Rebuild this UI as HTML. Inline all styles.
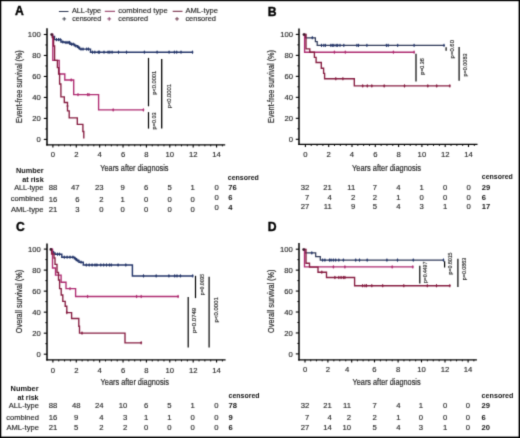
<!DOCTYPE html>
<html><head><meta charset="utf-8"><style>
html,body{margin:0;padding:0;background:#fff;width:520px;height:438px;overflow:hidden;}
body{position:relative;font-family:"Liberation Sans", sans-serif;}
svg text{font-family:"Liberation Sans", sans-serif;}
</style></head><body>
<svg width="520" height="438" viewBox="0 0 520 438" style="position:absolute;left:0;top:0;filter:none;font-family:'Liberation Sans', sans-serif">
<defs><filter id="bl" x="0" y="0" width="520" height="438" filterUnits="userSpaceOnUse" primitiveUnits="userSpaceOnUse" color-interpolation-filters="sRGB"><feConvolveMatrix order="3" kernelMatrix="0.01960 0.10080 0.01960 0.10080 0.51840 0.10080 0.01960 0.10080 0.01960" edgeMode="duplicate"/></filter></defs>
<rect x="0" y="0" width="520" height="438" fill="#fff"/>
<g filter="url(#bl)">
<rect x="0" y="0" width="520" height="438" fill="#fff"/>
<text x="15.1" y="15.4" font-size="12.2" text-anchor="start" font-weight="bold" fill="#000" stroke="#000" stroke-width="0.35">A</text>
<line x1="58.9" y1="11.5" x2="68.5" y2="11.5" stroke="#2a3450" stroke-width="1.0"/>
<text x="71.9" y="13.2" font-size="7" text-anchor="start" font-weight="normal" fill="#262626" textLength="29.3" lengthAdjust="spacingAndGlyphs" stroke="#262626" stroke-width="0.14">ALL-type</text>
<line x1="64.2" y1="17.0" x2="64.2" y2="20.799999999999997" stroke="#2f3440" stroke-width="0.85"/>
<line x1="62.300000000000004" y1="18.9" x2="66.10000000000001" y2="18.9" stroke="#2f3440" stroke-width="0.85"/>
<text x="72.2" y="20.8" font-size="7" text-anchor="start" font-weight="normal" fill="#262626" textLength="29.0" lengthAdjust="spacingAndGlyphs" stroke="#262626" stroke-width="0.14">censored</text>
<line x1="104.8" y1="11.3" x2="115" y2="11.3" stroke="#8a2a55" stroke-width="1.0"/>
<text x="118.3" y="13.2" font-size="7" text-anchor="start" font-weight="normal" fill="#262626" textLength="49.4" lengthAdjust="spacingAndGlyphs" stroke="#262626" stroke-width="0.14">combined type</text>
<line x1="109.2" y1="17.0" x2="109.2" y2="20.799999999999997" stroke="#7a2a55" stroke-width="0.85"/>
<line x1="107.3" y1="18.9" x2="111.10000000000001" y2="18.9" stroke="#7a2a55" stroke-width="0.85"/>
<text x="118.3" y="20.8" font-size="7" text-anchor="start" font-weight="normal" fill="#262626" textLength="29.7" lengthAdjust="spacingAndGlyphs" stroke="#262626" stroke-width="0.14">censored</text>
<line x1="172.7" y1="11.3" x2="182.5" y2="11.3" stroke="#6a1a35" stroke-width="1.0"/>
<text x="185.4" y="13.2" font-size="7" text-anchor="start" font-weight="normal" fill="#262626" textLength="32.5" lengthAdjust="spacingAndGlyphs" stroke="#262626" stroke-width="0.14">AML-type</text>
<line x1="177.0" y1="17.0" x2="177.0" y2="20.799999999999997" stroke="#5a2035" stroke-width="0.85"/>
<line x1="175.1" y1="18.9" x2="178.9" y2="18.9" stroke="#5a2035" stroke-width="0.85"/>
<text x="185.4" y="20.8" font-size="7" text-anchor="start" font-weight="normal" fill="#262626" textLength="30.6" lengthAdjust="spacingAndGlyphs" stroke="#262626" stroke-width="0.14">censored</text>
<line x1="47" y1="28.2" x2="47" y2="145.4" stroke="#000" stroke-width="1.5"/>
<line x1="46.25" y1="144.8" x2="225.2" y2="144.8" stroke="#000" stroke-width="1.3"/>
<line x1="43.8" y1="139.4" x2="47" y2="139.4" stroke="#000" stroke-width="1.1"/>
<text x="40.7" y="142.20000000000002" font-size="7.7" text-anchor="end" font-weight="normal" fill="#262626" stroke="#262626" stroke-width="0.14">0</text>
<line x1="45.4" y1="128.91" x2="47" y2="128.91" stroke="#000" stroke-width="1.0"/>
<line x1="43.8" y1="118.42000000000002" x2="47" y2="118.42000000000002" stroke="#000" stroke-width="1.1"/>
<text x="40.7" y="121.22000000000001" font-size="7.7" text-anchor="end" font-weight="normal" fill="#262626" stroke="#262626" stroke-width="0.14">20</text>
<line x1="45.4" y1="107.93" x2="47" y2="107.93" stroke="#000" stroke-width="1.0"/>
<line x1="43.8" y1="97.44000000000001" x2="47" y2="97.44000000000001" stroke="#000" stroke-width="1.1"/>
<text x="40.7" y="100.24000000000001" font-size="7.7" text-anchor="end" font-weight="normal" fill="#262626" stroke="#262626" stroke-width="0.14">40</text>
<line x1="45.4" y1="86.95000000000002" x2="47" y2="86.95000000000002" stroke="#000" stroke-width="1.0"/>
<line x1="43.8" y1="76.46000000000001" x2="47" y2="76.46000000000001" stroke="#000" stroke-width="1.1"/>
<text x="40.7" y="79.26" font-size="7.7" text-anchor="end" font-weight="normal" fill="#262626" stroke="#262626" stroke-width="0.14">60</text>
<line x1="45.4" y1="65.97000000000001" x2="47" y2="65.97000000000001" stroke="#000" stroke-width="1.0"/>
<line x1="43.8" y1="55.48000000000002" x2="47" y2="55.48000000000002" stroke="#000" stroke-width="1.1"/>
<text x="40.7" y="58.280000000000015" font-size="7.7" text-anchor="end" font-weight="normal" fill="#262626" stroke="#262626" stroke-width="0.14">80</text>
<line x1="45.4" y1="44.99000000000001" x2="47" y2="44.99000000000001" stroke="#000" stroke-width="1.0"/>
<line x1="43.8" y1="34.500000000000014" x2="47" y2="34.500000000000014" stroke="#000" stroke-width="1.1"/>
<text x="40.7" y="37.30000000000001" font-size="7.7" text-anchor="end" font-weight="normal" fill="#262626" stroke="#262626" stroke-width="0.14">100</text>
<line x1="52.9" y1="144.8" x2="52.9" y2="147.4" stroke="#000" stroke-width="1.1"/>
<line x1="76.28" y1="144.8" x2="76.28" y2="147.4" stroke="#000" stroke-width="1.1"/>
<line x1="99.66" y1="144.8" x2="99.66" y2="147.4" stroke="#000" stroke-width="1.1"/>
<line x1="123.03999999999999" y1="144.8" x2="123.03999999999999" y2="147.4" stroke="#000" stroke-width="1.1"/>
<line x1="146.42" y1="144.8" x2="146.42" y2="147.4" stroke="#000" stroke-width="1.1"/>
<line x1="169.79999999999998" y1="144.8" x2="169.79999999999998" y2="147.4" stroke="#000" stroke-width="1.1"/>
<line x1="193.18" y1="144.8" x2="193.18" y2="147.4" stroke="#000" stroke-width="1.1"/>
<line x1="216.56" y1="144.8" x2="216.56" y2="147.4" stroke="#000" stroke-width="1.1"/>
<line x1="58.745" y1="144.8" x2="58.745" y2="146.4" stroke="#000" stroke-width="0.9"/>
<line x1="64.59" y1="144.8" x2="64.59" y2="146.4" stroke="#000" stroke-width="0.9"/>
<line x1="70.435" y1="144.8" x2="70.435" y2="146.4" stroke="#000" stroke-width="0.9"/>
<line x1="82.125" y1="144.8" x2="82.125" y2="146.4" stroke="#000" stroke-width="0.9"/>
<line x1="87.97" y1="144.8" x2="87.97" y2="146.4" stroke="#000" stroke-width="0.9"/>
<line x1="93.815" y1="144.8" x2="93.815" y2="146.4" stroke="#000" stroke-width="0.9"/>
<line x1="105.505" y1="144.8" x2="105.505" y2="146.4" stroke="#000" stroke-width="0.9"/>
<line x1="111.35" y1="144.8" x2="111.35" y2="146.4" stroke="#000" stroke-width="0.9"/>
<line x1="117.195" y1="144.8" x2="117.195" y2="146.4" stroke="#000" stroke-width="0.9"/>
<line x1="128.885" y1="144.8" x2="128.885" y2="146.4" stroke="#000" stroke-width="0.9"/>
<line x1="134.73" y1="144.8" x2="134.73" y2="146.4" stroke="#000" stroke-width="0.9"/>
<line x1="140.575" y1="144.8" x2="140.575" y2="146.4" stroke="#000" stroke-width="0.9"/>
<line x1="152.265" y1="144.8" x2="152.265" y2="146.4" stroke="#000" stroke-width="0.9"/>
<line x1="158.10999999999999" y1="144.8" x2="158.10999999999999" y2="146.4" stroke="#000" stroke-width="0.9"/>
<line x1="163.95499999999998" y1="144.8" x2="163.95499999999998" y2="146.4" stroke="#000" stroke-width="0.9"/>
<line x1="175.64499999999998" y1="144.8" x2="175.64499999999998" y2="146.4" stroke="#000" stroke-width="0.9"/>
<line x1="181.49" y1="144.8" x2="181.49" y2="146.4" stroke="#000" stroke-width="0.9"/>
<line x1="187.335" y1="144.8" x2="187.335" y2="146.4" stroke="#000" stroke-width="0.9"/>
<line x1="199.025" y1="144.8" x2="199.025" y2="146.4" stroke="#000" stroke-width="0.9"/>
<line x1="204.87" y1="144.8" x2="204.87" y2="146.4" stroke="#000" stroke-width="0.9"/>
<line x1="210.715" y1="144.8" x2="210.715" y2="146.4" stroke="#000" stroke-width="0.9"/>
<line x1="222.405" y1="144.8" x2="222.405" y2="146.4" stroke="#000" stroke-width="0.9"/>
<text x="52.9" y="157.2" font-size="7.7" text-anchor="middle" font-weight="normal" fill="#262626" stroke="#262626" stroke-width="0.14">0</text>
<text x="76.28" y="157.2" font-size="7.7" text-anchor="middle" font-weight="normal" fill="#262626" stroke="#262626" stroke-width="0.14">2</text>
<text x="99.66" y="157.2" font-size="7.7" text-anchor="middle" font-weight="normal" fill="#262626" stroke="#262626" stroke-width="0.14">4</text>
<text x="123.04" y="157.2" font-size="7.7" text-anchor="middle" font-weight="normal" fill="#262626" stroke="#262626" stroke-width="0.14">6</text>
<text x="146.42" y="157.2" font-size="7.7" text-anchor="middle" font-weight="normal" fill="#262626" stroke="#262626" stroke-width="0.14">8</text>
<text x="169.8" y="157.2" font-size="7.7" text-anchor="middle" font-weight="normal" fill="#262626" stroke="#262626" stroke-width="0.14">10</text>
<text x="193.18" y="157.2" font-size="7.7" text-anchor="middle" font-weight="normal" fill="#262626" stroke="#262626" stroke-width="0.14">12</text>
<text x="216.56" y="157.2" font-size="7.7" text-anchor="middle" font-weight="normal" fill="#262626" stroke="#262626" stroke-width="0.14">14</text>
<text x="100.3" y="170.7" font-size="9.6" text-anchor="start" font-weight="normal" fill="#262626" textLength="68.2" lengthAdjust="spacingAndGlyphs" stroke="#262626" stroke-width="0.2">Years after diagnosis</text>
<text transform="translate(22.2,122.9) rotate(-90)" x="0" y="0" font-size="8.8" fill="#262626" textLength="72.6" lengthAdjust="spacingAndGlyphs" stroke="#262626" stroke-width="0.2">Event-free survival (%)</text>
<path d="M51.4,34.5 H52.5 V36.5 H54.5 V39.6 H61 V41.9 H64.5 V42.5 H70 V44.2 H74.5 V45.8 H77.5 V47.3 H79.5 V49.1 H90.5 V52.2 H192.5" fill="none" stroke="#24366a" stroke-width="1.45" stroke-linejoin="miter" stroke-linecap="butt"/>
<line x1="86.7" y1="47.5" x2="86.7" y2="50.7" stroke="#24366a" stroke-width="1.0"/>
<line x1="85.8" y1="49.1" x2="87.60000000000001" y2="49.1" stroke="#24366a" stroke-width="1.3"/>
<line x1="88.5" y1="47.5" x2="88.5" y2="50.7" stroke="#24366a" stroke-width="1.0"/>
<line x1="87.6" y1="49.1" x2="89.4" y2="49.1" stroke="#24366a" stroke-width="1.3"/>
<line x1="92.5" y1="50.6" x2="92.5" y2="53.800000000000004" stroke="#24366a" stroke-width="1.0"/>
<line x1="91.6" y1="52.2" x2="93.4" y2="52.2" stroke="#24366a" stroke-width="1.3"/>
<line x1="94.8" y1="50.6" x2="94.8" y2="53.800000000000004" stroke="#24366a" stroke-width="1.0"/>
<line x1="93.89999999999999" y1="52.2" x2="95.7" y2="52.2" stroke="#24366a" stroke-width="1.3"/>
<line x1="98.3" y1="50.6" x2="98.3" y2="53.800000000000004" stroke="#24366a" stroke-width="1.0"/>
<line x1="97.39999999999999" y1="52.2" x2="99.2" y2="52.2" stroke="#24366a" stroke-width="1.3"/>
<line x1="99.4" y1="50.6" x2="99.4" y2="53.800000000000004" stroke="#24366a" stroke-width="1.0"/>
<line x1="98.5" y1="52.2" x2="100.30000000000001" y2="52.2" stroke="#24366a" stroke-width="1.3"/>
<line x1="104" y1="50.6" x2="104" y2="53.800000000000004" stroke="#24366a" stroke-width="1.0"/>
<line x1="103.1" y1="52.2" x2="104.9" y2="52.2" stroke="#24366a" stroke-width="1.3"/>
<line x1="108.1" y1="50.6" x2="108.1" y2="53.800000000000004" stroke="#24366a" stroke-width="1.0"/>
<line x1="107.19999999999999" y1="52.2" x2="109.0" y2="52.2" stroke="#24366a" stroke-width="1.3"/>
<line x1="109.8" y1="50.6" x2="109.8" y2="53.800000000000004" stroke="#24366a" stroke-width="1.0"/>
<line x1="108.89999999999999" y1="52.2" x2="110.7" y2="52.2" stroke="#24366a" stroke-width="1.3"/>
<line x1="112.1" y1="50.6" x2="112.1" y2="53.800000000000004" stroke="#24366a" stroke-width="1.0"/>
<line x1="111.19999999999999" y1="52.2" x2="113.0" y2="52.2" stroke="#24366a" stroke-width="1.3"/>
<line x1="118.5" y1="50.6" x2="118.5" y2="53.800000000000004" stroke="#24366a" stroke-width="1.0"/>
<line x1="117.6" y1="52.2" x2="119.4" y2="52.2" stroke="#24366a" stroke-width="1.3"/>
<line x1="126.5" y1="50.6" x2="126.5" y2="53.800000000000004" stroke="#24366a" stroke-width="1.0"/>
<line x1="125.6" y1="52.2" x2="127.4" y2="52.2" stroke="#24366a" stroke-width="1.3"/>
<line x1="144.4" y1="50.6" x2="144.4" y2="53.800000000000004" stroke="#24366a" stroke-width="1.0"/>
<line x1="143.5" y1="52.2" x2="145.3" y2="52.2" stroke="#24366a" stroke-width="1.3"/>
<line x1="157.1" y1="50.6" x2="157.1" y2="53.800000000000004" stroke="#24366a" stroke-width="1.0"/>
<line x1="156.2" y1="52.2" x2="158.0" y2="52.2" stroke="#24366a" stroke-width="1.3"/>
<line x1="169.1" y1="50.6" x2="169.1" y2="53.800000000000004" stroke="#24366a" stroke-width="1.0"/>
<line x1="168.2" y1="52.2" x2="170.0" y2="52.2" stroke="#24366a" stroke-width="1.3"/>
<line x1="174.4" y1="50.6" x2="174.4" y2="53.800000000000004" stroke="#24366a" stroke-width="1.0"/>
<line x1="173.5" y1="52.2" x2="175.3" y2="52.2" stroke="#24366a" stroke-width="1.3"/>
<line x1="176.7" y1="50.6" x2="176.7" y2="53.800000000000004" stroke="#24366a" stroke-width="1.0"/>
<line x1="175.79999999999998" y1="52.2" x2="177.6" y2="52.2" stroke="#24366a" stroke-width="1.3"/>
<line x1="181" y1="50.6" x2="181" y2="53.800000000000004" stroke="#24366a" stroke-width="1.0"/>
<line x1="180.1" y1="52.2" x2="181.9" y2="52.2" stroke="#24366a" stroke-width="1.3"/>
<line x1="192.5" y1="50.6" x2="192.5" y2="53.800000000000004" stroke="#24366a" stroke-width="1.0"/>
<line x1="191.6" y1="52.2" x2="193.4" y2="52.2" stroke="#24366a" stroke-width="1.3"/>
<line x1="56.5" y1="38.0" x2="56.5" y2="41.2" stroke="#24366a" stroke-width="1.0"/>
<line x1="55.6" y1="39.6" x2="57.4" y2="39.6" stroke="#24366a" stroke-width="1.3"/>
<line x1="58.5" y1="38.0" x2="58.5" y2="41.2" stroke="#24366a" stroke-width="1.0"/>
<line x1="57.6" y1="39.6" x2="59.4" y2="39.6" stroke="#24366a" stroke-width="1.3"/>
<line x1="60.2" y1="38.0" x2="60.2" y2="41.2" stroke="#24366a" stroke-width="1.0"/>
<line x1="59.300000000000004" y1="39.6" x2="61.1" y2="39.6" stroke="#24366a" stroke-width="1.3"/>
<line x1="62.8" y1="40.3" x2="62.8" y2="43.5" stroke="#24366a" stroke-width="1.0"/>
<line x1="61.9" y1="41.9" x2="63.699999999999996" y2="41.9" stroke="#24366a" stroke-width="1.3"/>
<line x1="66" y1="40.9" x2="66" y2="44.1" stroke="#24366a" stroke-width="1.0"/>
<line x1="65.1" y1="42.5" x2="66.9" y2="42.5" stroke="#24366a" stroke-width="1.3"/>
<line x1="68" y1="40.9" x2="68" y2="44.1" stroke="#24366a" stroke-width="1.0"/>
<line x1="67.1" y1="42.5" x2="68.9" y2="42.5" stroke="#24366a" stroke-width="1.3"/>
<line x1="69.5" y1="40.9" x2="69.5" y2="44.1" stroke="#24366a" stroke-width="1.0"/>
<line x1="68.6" y1="42.5" x2="70.4" y2="42.5" stroke="#24366a" stroke-width="1.3"/>
<line x1="71.5" y1="42.6" x2="71.5" y2="45.800000000000004" stroke="#24366a" stroke-width="1.0"/>
<line x1="70.6" y1="44.2" x2="72.4" y2="44.2" stroke="#24366a" stroke-width="1.3"/>
<line x1="73.2" y1="42.6" x2="73.2" y2="45.800000000000004" stroke="#24366a" stroke-width="1.0"/>
<line x1="72.3" y1="44.2" x2="74.10000000000001" y2="44.2" stroke="#24366a" stroke-width="1.3"/>
<line x1="75.8" y1="44.199999999999996" x2="75.8" y2="47.4" stroke="#24366a" stroke-width="1.0"/>
<line x1="74.89999999999999" y1="45.8" x2="76.7" y2="45.8" stroke="#24366a" stroke-width="1.3"/>
<line x1="78.4" y1="45.699999999999996" x2="78.4" y2="48.9" stroke="#24366a" stroke-width="1.0"/>
<line x1="77.5" y1="47.3" x2="79.30000000000001" y2="47.3" stroke="#24366a" stroke-width="1.3"/>
<line x1="81" y1="47.5" x2="81" y2="50.7" stroke="#24366a" stroke-width="1.0"/>
<line x1="80.1" y1="49.1" x2="81.9" y2="49.1" stroke="#24366a" stroke-width="1.3"/>
<line x1="83" y1="47.5" x2="83" y2="50.7" stroke="#24366a" stroke-width="1.0"/>
<line x1="82.1" y1="49.1" x2="83.9" y2="49.1" stroke="#24366a" stroke-width="1.3"/>
<path d="M51.4,34.5 H52.8 V60.4 H59.2 V74 H64.8 V80 H73.7 V94.6 H98.6 V109.9 H143.4" fill="none" stroke="#ae2a70" stroke-width="1.35" stroke-linejoin="miter" stroke-linecap="butt"/>
<line x1="71.2" y1="78.4" x2="71.2" y2="81.6" stroke="#ae2a70" stroke-width="1.0"/>
<line x1="70.3" y1="80" x2="72.10000000000001" y2="80" stroke="#ae2a70" stroke-width="1.3"/>
<line x1="78" y1="93.0" x2="78" y2="96.19999999999999" stroke="#ae2a70" stroke-width="1.0"/>
<line x1="77.1" y1="94.6" x2="78.9" y2="94.6" stroke="#ae2a70" stroke-width="1.3"/>
<line x1="87.7" y1="93.0" x2="87.7" y2="96.19999999999999" stroke="#ae2a70" stroke-width="1.0"/>
<line x1="86.8" y1="94.6" x2="88.60000000000001" y2="94.6" stroke="#ae2a70" stroke-width="1.3"/>
<line x1="89" y1="93.0" x2="89" y2="96.19999999999999" stroke="#ae2a70" stroke-width="1.0"/>
<line x1="88.1" y1="94.6" x2="89.9" y2="94.6" stroke="#ae2a70" stroke-width="1.3"/>
<line x1="113.2" y1="108.30000000000001" x2="113.2" y2="111.5" stroke="#ae2a70" stroke-width="1.0"/>
<line x1="112.3" y1="109.9" x2="114.10000000000001" y2="109.9" stroke="#ae2a70" stroke-width="1.3"/>
<line x1="143.4" y1="108.30000000000001" x2="143.4" y2="111.5" stroke="#ae2a70" stroke-width="1.0"/>
<line x1="142.5" y1="109.9" x2="144.3" y2="109.9" stroke="#ae2a70" stroke-width="1.3"/>
<path d="M51.4,34.5 H52.3 V37.5 H53.6 V46 H54.6 V60.4 H57.4 V67.6 H58.6 V74 H59.6 V84 H60.9 V96.9 H64.3 V102.5 H67.5 V110.8 H69.2 V117.9 H77.3 V124.4 H82.9 V131.5 H83.8 V138.6" fill="none" stroke="#861c40" stroke-width="1.35" stroke-linejoin="miter" stroke-linecap="butt"/>
<line x1="67.5" y1="104.4" x2="67.5" y2="107.6" stroke="#861c40" stroke-width="1.0"/>
<line x1="66.6" y1="106" x2="68.4" y2="106" stroke="#861c40" stroke-width="1.3"/>
<line x1="148.5" y1="57.9" x2="148.5" y2="106.3" stroke="#000" stroke-width="1.2"/>
<text transform="translate(155.6,94.7) rotate(-90)" x="0" y="0" font-size="5.7" fill="#262626" textLength="23.9" lengthAdjust="spacingAndGlyphs" stroke="#262626" stroke-width="0.15">p&lt;0.0001</text>
<line x1="148.5" y1="112.1" x2="148.5" y2="128.6" stroke="#000" stroke-width="1.2"/>
<text transform="translate(155.6,129.4) rotate(-90)" x="0" y="0" font-size="5.7" fill="#262626" textLength="17.1" lengthAdjust="spacingAndGlyphs" stroke="#262626" stroke-width="0.15">p=0.03</text>
<line x1="161.7" y1="58.9" x2="161.7" y2="128.6" stroke="#000" stroke-width="1.3"/>
<text transform="translate(170.6,108.3) rotate(-90)" x="0" y="0" font-size="5.7" fill="#262626" textLength="24.3" lengthAdjust="spacingAndGlyphs" stroke="#262626" stroke-width="0.15">p&lt;0.0001</text>
<text x="43.7" y="172.5" font-size="7" text-anchor="end" font-weight="bold" fill="#111" textLength="27.7" lengthAdjust="spacingAndGlyphs">Number</text>
<text x="43.7" y="181.7" font-size="7" text-anchor="end" font-weight="bold" fill="#111" textLength="21.4" lengthAdjust="spacingAndGlyphs">at risk</text>
<text x="43.4" y="189.6" font-size="7" text-anchor="end" font-weight="normal" fill="#262626" textLength="29.2" lengthAdjust="spacingAndGlyphs" stroke="#262626" stroke-width="0.14">ALL-type</text>
<text x="43.7" y="201.4" font-size="7" text-anchor="end" font-weight="normal" fill="#262626" textLength="32.9" lengthAdjust="spacingAndGlyphs" stroke="#262626" stroke-width="0.14">combined</text>
<text x="43.4" y="211.5" font-size="7" text-anchor="end" font-weight="normal" fill="#262626" textLength="32.5" lengthAdjust="spacingAndGlyphs" stroke="#262626" stroke-width="0.14">AML-type</text>
<text x="57.2" y="190.0" font-size="7.7" text-anchor="end" font-weight="normal" fill="#262626" stroke="#262626" stroke-width="0.14">88</text>
<text x="79.6" y="190.0" font-size="7.7" text-anchor="end" font-weight="normal" fill="#262626" stroke="#262626" stroke-width="0.14">47</text>
<text x="103.6" y="190.0" font-size="7.7" text-anchor="end" font-weight="normal" fill="#262626" stroke="#262626" stroke-width="0.14">23</text>
<text x="124.8" y="190.0" font-size="7.7" text-anchor="end" font-weight="normal" fill="#262626" stroke="#262626" stroke-width="0.14">9</text>
<text x="148.3" y="190.0" font-size="7.7" text-anchor="end" font-weight="normal" fill="#262626" stroke="#262626" stroke-width="0.14">6</text>
<text x="171.9" y="190.0" font-size="7.7" text-anchor="end" font-weight="normal" fill="#262626" stroke="#262626" stroke-width="0.14">5</text>
<text x="194.8" y="190.0" font-size="7.7" text-anchor="end" font-weight="normal" fill="#262626" stroke="#262626" stroke-width="0.14">1</text>
<text x="57.2" y="201.6" font-size="7.7" text-anchor="end" font-weight="normal" fill="#262626" stroke="#262626" stroke-width="0.14">16</text>
<text x="79.6" y="201.6" font-size="7.7" text-anchor="end" font-weight="normal" fill="#262626" stroke="#262626" stroke-width="0.14">6</text>
<text x="103.6" y="201.6" font-size="7.7" text-anchor="end" font-weight="normal" fill="#262626" stroke="#262626" stroke-width="0.14">2</text>
<text x="124.8" y="201.6" font-size="7.7" text-anchor="end" font-weight="normal" fill="#262626" stroke="#262626" stroke-width="0.14">1</text>
<text x="148.3" y="201.6" font-size="7.7" text-anchor="end" font-weight="normal" fill="#262626" stroke="#262626" stroke-width="0.14">0</text>
<text x="171.9" y="201.6" font-size="7.7" text-anchor="end" font-weight="normal" fill="#262626" stroke="#262626" stroke-width="0.14">0</text>
<text x="194.8" y="201.6" font-size="7.7" text-anchor="end" font-weight="normal" fill="#262626" stroke="#262626" stroke-width="0.14">0</text>
<text x="57.2" y="211.7" font-size="7.7" text-anchor="end" font-weight="normal" fill="#262626" stroke="#262626" stroke-width="0.14">21</text>
<text x="79.6" y="211.7" font-size="7.7" text-anchor="end" font-weight="normal" fill="#262626" stroke="#262626" stroke-width="0.14">3</text>
<text x="103.6" y="211.7" font-size="7.7" text-anchor="end" font-weight="normal" fill="#262626" stroke="#262626" stroke-width="0.14">0</text>
<text x="124.8" y="211.7" font-size="7.7" text-anchor="end" font-weight="normal" fill="#262626" stroke="#262626" stroke-width="0.14">0</text>
<text x="148.3" y="211.7" font-size="7.7" text-anchor="end" font-weight="normal" fill="#262626" stroke="#262626" stroke-width="0.14">0</text>
<text x="171.9" y="211.7" font-size="7.7" text-anchor="end" font-weight="normal" fill="#262626" stroke="#262626" stroke-width="0.14">0</text>
<text x="194.8" y="211.7" font-size="7.7" text-anchor="end" font-weight="normal" fill="#262626" stroke="#262626" stroke-width="0.14">0</text>
<text x="218.7" y="190.0" font-size="7.7" text-anchor="end" font-weight="normal" fill="#262626" stroke="#262626" stroke-width="0.14">0</text>
<text x="218.7" y="200.3" font-size="7.7" text-anchor="end" font-weight="normal" fill="#262626" stroke="#262626" stroke-width="0.14">0</text>
<text x="218.7" y="209.8" font-size="7.7" text-anchor="end" font-weight="normal" fill="#262626" stroke="#262626" stroke-width="0.14">0</text>
<text x="227.8" y="179.6" font-size="7.5" text-anchor="start" font-weight="bold" fill="#111" textLength="31.1" lengthAdjust="spacingAndGlyphs">censored</text>
<text x="228.2" y="190.0" font-size="7.6" text-anchor="start" font-weight="bold" fill="#111">76</text>
<text x="228.2" y="200.3" font-size="7.6" text-anchor="start" font-weight="bold" fill="#111">6</text>
<text x="228.2" y="209.8" font-size="7.6" text-anchor="start" font-weight="bold" fill="#111">4</text>
<text x="267.8" y="16.2" font-size="12.2" text-anchor="start" font-weight="bold" fill="#000" stroke="#000" stroke-width="0.35">B</text>
<line x1="299" y1="28.5" x2="299" y2="145.0" stroke="#000" stroke-width="1.5"/>
<line x1="298.25" y1="144.4" x2="477.5" y2="144.4" stroke="#000" stroke-width="1.3"/>
<line x1="295.8" y1="139.3" x2="299" y2="139.3" stroke="#000" stroke-width="1.1"/>
<text x="293" y="142.10000000000002" font-size="7.7" text-anchor="end" font-weight="normal" fill="#262626" stroke="#262626" stroke-width="0.14">0</text>
<line x1="297.4" y1="128.81" x2="299" y2="128.81" stroke="#000" stroke-width="1.0"/>
<line x1="295.8" y1="118.32000000000002" x2="299" y2="118.32000000000002" stroke="#000" stroke-width="1.1"/>
<text x="293" y="121.12000000000002" font-size="7.7" text-anchor="end" font-weight="normal" fill="#262626" stroke="#262626" stroke-width="0.14">20</text>
<line x1="297.4" y1="107.83000000000001" x2="299" y2="107.83000000000001" stroke="#000" stroke-width="1.0"/>
<line x1="295.8" y1="97.34000000000002" x2="299" y2="97.34000000000002" stroke="#000" stroke-width="1.1"/>
<text x="293" y="100.14000000000001" font-size="7.7" text-anchor="end" font-weight="normal" fill="#262626" stroke="#262626" stroke-width="0.14">40</text>
<line x1="297.4" y1="86.85000000000002" x2="299" y2="86.85000000000002" stroke="#000" stroke-width="1.0"/>
<line x1="295.8" y1="76.36000000000001" x2="299" y2="76.36000000000001" stroke="#000" stroke-width="1.1"/>
<text x="293" y="79.16000000000001" font-size="7.7" text-anchor="end" font-weight="normal" fill="#262626" stroke="#262626" stroke-width="0.14">60</text>
<line x1="297.4" y1="65.87000000000002" x2="299" y2="65.87000000000002" stroke="#000" stroke-width="1.0"/>
<line x1="295.8" y1="55.380000000000024" x2="299" y2="55.380000000000024" stroke="#000" stroke-width="1.1"/>
<text x="293" y="58.18000000000002" font-size="7.7" text-anchor="end" font-weight="normal" fill="#262626" stroke="#262626" stroke-width="0.14">80</text>
<line x1="297.4" y1="44.890000000000015" x2="299" y2="44.890000000000015" stroke="#000" stroke-width="1.0"/>
<line x1="295.8" y1="34.40000000000002" x2="299" y2="34.40000000000002" stroke="#000" stroke-width="1.1"/>
<text x="293" y="37.20000000000002" font-size="7.7" text-anchor="end" font-weight="normal" fill="#262626" stroke="#262626" stroke-width="0.14">100</text>
<line x1="305.4" y1="144.4" x2="305.4" y2="147.0" stroke="#000" stroke-width="1.1"/>
<line x1="328.7" y1="144.4" x2="328.7" y2="147.0" stroke="#000" stroke-width="1.1"/>
<line x1="352.0" y1="144.4" x2="352.0" y2="147.0" stroke="#000" stroke-width="1.1"/>
<line x1="375.29999999999995" y1="144.4" x2="375.29999999999995" y2="147.0" stroke="#000" stroke-width="1.1"/>
<line x1="398.59999999999997" y1="144.4" x2="398.59999999999997" y2="147.0" stroke="#000" stroke-width="1.1"/>
<line x1="421.9" y1="144.4" x2="421.9" y2="147.0" stroke="#000" stroke-width="1.1"/>
<line x1="445.2" y1="144.4" x2="445.2" y2="147.0" stroke="#000" stroke-width="1.1"/>
<line x1="468.5" y1="144.4" x2="468.5" y2="147.0" stroke="#000" stroke-width="1.1"/>
<line x1="311.22499999999997" y1="144.4" x2="311.22499999999997" y2="146.0" stroke="#000" stroke-width="0.9"/>
<line x1="317.04999999999995" y1="144.4" x2="317.04999999999995" y2="146.0" stroke="#000" stroke-width="0.9"/>
<line x1="322.875" y1="144.4" x2="322.875" y2="146.0" stroke="#000" stroke-width="0.9"/>
<line x1="334.525" y1="144.4" x2="334.525" y2="146.0" stroke="#000" stroke-width="0.9"/>
<line x1="340.35" y1="144.4" x2="340.35" y2="146.0" stroke="#000" stroke-width="0.9"/>
<line x1="346.175" y1="144.4" x2="346.175" y2="146.0" stroke="#000" stroke-width="0.9"/>
<line x1="357.825" y1="144.4" x2="357.825" y2="146.0" stroke="#000" stroke-width="0.9"/>
<line x1="363.65" y1="144.4" x2="363.65" y2="146.0" stroke="#000" stroke-width="0.9"/>
<line x1="369.47499999999997" y1="144.4" x2="369.47499999999997" y2="146.0" stroke="#000" stroke-width="0.9"/>
<line x1="381.12499999999994" y1="144.4" x2="381.12499999999994" y2="146.0" stroke="#000" stroke-width="0.9"/>
<line x1="386.94999999999993" y1="144.4" x2="386.94999999999993" y2="146.0" stroke="#000" stroke-width="0.9"/>
<line x1="392.775" y1="144.4" x2="392.775" y2="146.0" stroke="#000" stroke-width="0.9"/>
<line x1="404.42499999999995" y1="144.4" x2="404.42499999999995" y2="146.0" stroke="#000" stroke-width="0.9"/>
<line x1="410.25" y1="144.4" x2="410.25" y2="146.0" stroke="#000" stroke-width="0.9"/>
<line x1="416.075" y1="144.4" x2="416.075" y2="146.0" stroke="#000" stroke-width="0.9"/>
<line x1="427.72499999999997" y1="144.4" x2="427.72499999999997" y2="146.0" stroke="#000" stroke-width="0.9"/>
<line x1="433.54999999999995" y1="144.4" x2="433.54999999999995" y2="146.0" stroke="#000" stroke-width="0.9"/>
<line x1="439.375" y1="144.4" x2="439.375" y2="146.0" stroke="#000" stroke-width="0.9"/>
<line x1="451.025" y1="144.4" x2="451.025" y2="146.0" stroke="#000" stroke-width="0.9"/>
<line x1="456.85" y1="144.4" x2="456.85" y2="146.0" stroke="#000" stroke-width="0.9"/>
<line x1="462.675" y1="144.4" x2="462.675" y2="146.0" stroke="#000" stroke-width="0.9"/>
<line x1="474.325" y1="144.4" x2="474.325" y2="146.0" stroke="#000" stroke-width="0.9"/>
<text x="305.4" y="157.2" font-size="7.7" text-anchor="middle" font-weight="normal" fill="#262626" stroke="#262626" stroke-width="0.14">0</text>
<text x="328.7" y="157.2" font-size="7.7" text-anchor="middle" font-weight="normal" fill="#262626" stroke="#262626" stroke-width="0.14">2</text>
<text x="352.0" y="157.2" font-size="7.7" text-anchor="middle" font-weight="normal" fill="#262626" stroke="#262626" stroke-width="0.14">4</text>
<text x="375.3" y="157.2" font-size="7.7" text-anchor="middle" font-weight="normal" fill="#262626" stroke="#262626" stroke-width="0.14">6</text>
<text x="398.6" y="157.2" font-size="7.7" text-anchor="middle" font-weight="normal" fill="#262626" stroke="#262626" stroke-width="0.14">8</text>
<text x="421.9" y="157.2" font-size="7.7" text-anchor="middle" font-weight="normal" fill="#262626" stroke="#262626" stroke-width="0.14">10</text>
<text x="445.2" y="157.2" font-size="7.7" text-anchor="middle" font-weight="normal" fill="#262626" stroke="#262626" stroke-width="0.14">12</text>
<text x="468.5" y="157.2" font-size="7.7" text-anchor="middle" font-weight="normal" fill="#262626" stroke="#262626" stroke-width="0.14">14</text>
<text x="352.1" y="170.7" font-size="9.6" text-anchor="start" font-weight="normal" fill="#262626" textLength="68.9" lengthAdjust="spacingAndGlyphs" stroke="#262626" stroke-width="0.2">Years after diagnosis</text>
<text transform="translate(274.3,122.9) rotate(-90)" x="0" y="0" font-size="8.8" fill="#262626" textLength="72.8" lengthAdjust="spacingAndGlyphs" stroke="#262626" stroke-width="0.2">Event-free survival (%)</text>
<path d="M303.8,34.4 H305.6 V37.8 H315.4 V41.7 H317.2 V45.4 H444" fill="none" stroke="#2e3858" stroke-width="1.25" stroke-linejoin="miter" stroke-linecap="butt"/>
<line x1="312.3" y1="36.1" x2="312.3" y2="39.300000000000004" stroke="#24366a" stroke-width="1.0"/>
<line x1="311.40000000000003" y1="37.7" x2="313.2" y2="37.7" stroke="#24366a" stroke-width="1.3"/>
<line x1="321.5" y1="43.8" x2="321.5" y2="47.0" stroke="#24366a" stroke-width="1.0"/>
<line x1="320.6" y1="45.4" x2="322.4" y2="45.4" stroke="#24366a" stroke-width="1.3"/>
<line x1="323.8" y1="43.8" x2="323.8" y2="47.0" stroke="#24366a" stroke-width="1.0"/>
<line x1="322.90000000000003" y1="45.4" x2="324.7" y2="45.4" stroke="#24366a" stroke-width="1.3"/>
<line x1="325.4" y1="43.8" x2="325.4" y2="47.0" stroke="#24366a" stroke-width="1.0"/>
<line x1="324.5" y1="45.4" x2="326.29999999999995" y2="45.4" stroke="#24366a" stroke-width="1.3"/>
<line x1="330.8" y1="43.8" x2="330.8" y2="47.0" stroke="#24366a" stroke-width="1.0"/>
<line x1="329.90000000000003" y1="45.4" x2="331.7" y2="45.4" stroke="#24366a" stroke-width="1.3"/>
<line x1="332.3" y1="43.8" x2="332.3" y2="47.0" stroke="#24366a" stroke-width="1.0"/>
<line x1="331.40000000000003" y1="45.4" x2="333.2" y2="45.4" stroke="#24366a" stroke-width="1.3"/>
<line x1="333.8" y1="43.8" x2="333.8" y2="47.0" stroke="#24366a" stroke-width="1.0"/>
<line x1="332.90000000000003" y1="45.4" x2="334.7" y2="45.4" stroke="#24366a" stroke-width="1.3"/>
<line x1="336.2" y1="43.8" x2="336.2" y2="47.0" stroke="#24366a" stroke-width="1.0"/>
<line x1="335.3" y1="45.4" x2="337.09999999999997" y2="45.4" stroke="#24366a" stroke-width="1.3"/>
<line x1="337.7" y1="43.8" x2="337.7" y2="47.0" stroke="#24366a" stroke-width="1.0"/>
<line x1="336.8" y1="45.4" x2="338.59999999999997" y2="45.4" stroke="#24366a" stroke-width="1.3"/>
<line x1="340" y1="43.8" x2="340" y2="47.0" stroke="#24366a" stroke-width="1.0"/>
<line x1="339.1" y1="45.4" x2="340.9" y2="45.4" stroke="#24366a" stroke-width="1.3"/>
<line x1="343.8" y1="43.8" x2="343.8" y2="47.0" stroke="#24366a" stroke-width="1.0"/>
<line x1="342.90000000000003" y1="45.4" x2="344.7" y2="45.4" stroke="#24366a" stroke-width="1.3"/>
<line x1="356.9" y1="43.8" x2="356.9" y2="47.0" stroke="#24366a" stroke-width="1.0"/>
<line x1="356.0" y1="45.4" x2="357.79999999999995" y2="45.4" stroke="#24366a" stroke-width="1.3"/>
<line x1="358.5" y1="43.8" x2="358.5" y2="47.0" stroke="#24366a" stroke-width="1.0"/>
<line x1="357.6" y1="45.4" x2="359.4" y2="45.4" stroke="#24366a" stroke-width="1.3"/>
<line x1="366.9" y1="43.8" x2="366.9" y2="47.0" stroke="#24366a" stroke-width="1.0"/>
<line x1="366.0" y1="45.4" x2="367.79999999999995" y2="45.4" stroke="#24366a" stroke-width="1.3"/>
<line x1="386.4" y1="43.8" x2="386.4" y2="47.0" stroke="#24366a" stroke-width="1.0"/>
<line x1="385.5" y1="45.4" x2="387.29999999999995" y2="45.4" stroke="#24366a" stroke-width="1.3"/>
<line x1="388.2" y1="43.8" x2="388.2" y2="47.0" stroke="#24366a" stroke-width="1.0"/>
<line x1="387.3" y1="45.4" x2="389.09999999999997" y2="45.4" stroke="#24366a" stroke-width="1.3"/>
<line x1="397.7" y1="43.8" x2="397.7" y2="47.0" stroke="#24366a" stroke-width="1.0"/>
<line x1="396.8" y1="45.4" x2="398.59999999999997" y2="45.4" stroke="#24366a" stroke-width="1.3"/>
<line x1="414.1" y1="43.8" x2="414.1" y2="47.0" stroke="#24366a" stroke-width="1.0"/>
<line x1="413.20000000000005" y1="45.4" x2="415.0" y2="45.4" stroke="#24366a" stroke-width="1.3"/>
<line x1="444" y1="43.8" x2="444" y2="47.0" stroke="#24366a" stroke-width="1.0"/>
<line x1="443.1" y1="45.4" x2="444.9" y2="45.4" stroke="#24366a" stroke-width="1.3"/>
<path d="M303.8,34.4 H304.6 V52.2 H414.1" fill="none" stroke="#ae2a70" stroke-width="1.35" stroke-linejoin="miter" stroke-linecap="butt"/>
<line x1="334.4" y1="50.6" x2="334.4" y2="53.800000000000004" stroke="#ae2a70" stroke-width="1.0"/>
<line x1="333.5" y1="52.2" x2="335.29999999999995" y2="52.2" stroke="#ae2a70" stroke-width="1.3"/>
<line x1="345.3" y1="50.6" x2="345.3" y2="53.800000000000004" stroke="#ae2a70" stroke-width="1.0"/>
<line x1="344.40000000000003" y1="52.2" x2="346.2" y2="52.2" stroke="#ae2a70" stroke-width="1.3"/>
<line x1="393.4" y1="50.6" x2="393.4" y2="53.800000000000004" stroke="#ae2a70" stroke-width="1.0"/>
<line x1="392.5" y1="52.2" x2="394.29999999999995" y2="52.2" stroke="#ae2a70" stroke-width="1.3"/>
<line x1="414.1" y1="50.6" x2="414.1" y2="53.800000000000004" stroke="#ae2a70" stroke-width="1.0"/>
<line x1="413.20000000000005" y1="52.2" x2="415.0" y2="52.2" stroke="#ae2a70" stroke-width="1.3"/>
<path d="M303.8,34.4 H306.0 V48.8 H309.8 V52.2 H314.4 V57.3 H316.1 V62.5 H321.3 V68.2 H323.6 V73.4 H324.6 V78.7 H354.3 V85.9 H449.8" fill="none" stroke="#861c40" stroke-width="1.35" stroke-linejoin="miter" stroke-linecap="butt"/>
<line x1="335.8" y1="77.10000000000001" x2="335.8" y2="80.3" stroke="#861c40" stroke-width="1.0"/>
<line x1="334.90000000000003" y1="78.7" x2="336.7" y2="78.7" stroke="#861c40" stroke-width="1.3"/>
<line x1="342.9" y1="77.10000000000001" x2="342.9" y2="80.3" stroke="#861c40" stroke-width="1.0"/>
<line x1="342.0" y1="78.7" x2="343.79999999999995" y2="78.7" stroke="#861c40" stroke-width="1.3"/>
<line x1="362.7" y1="84.30000000000001" x2="362.7" y2="87.5" stroke="#861c40" stroke-width="1.0"/>
<line x1="361.8" y1="85.9" x2="363.59999999999997" y2="85.9" stroke="#861c40" stroke-width="1.3"/>
<line x1="367.3" y1="84.30000000000001" x2="367.3" y2="87.5" stroke="#861c40" stroke-width="1.0"/>
<line x1="366.40000000000003" y1="85.9" x2="368.2" y2="85.9" stroke="#861c40" stroke-width="1.3"/>
<line x1="371.8" y1="84.30000000000001" x2="371.8" y2="87.5" stroke="#861c40" stroke-width="1.0"/>
<line x1="370.90000000000003" y1="85.9" x2="372.7" y2="85.9" stroke="#861c40" stroke-width="1.3"/>
<line x1="384.2" y1="84.30000000000001" x2="384.2" y2="87.5" stroke="#861c40" stroke-width="1.0"/>
<line x1="383.3" y1="85.9" x2="385.09999999999997" y2="85.9" stroke="#861c40" stroke-width="1.3"/>
<line x1="404.5" y1="84.30000000000001" x2="404.5" y2="87.5" stroke="#861c40" stroke-width="1.0"/>
<line x1="403.6" y1="85.9" x2="405.4" y2="85.9" stroke="#861c40" stroke-width="1.3"/>
<line x1="427.8" y1="84.30000000000001" x2="427.8" y2="87.5" stroke="#861c40" stroke-width="1.0"/>
<line x1="426.90000000000003" y1="85.9" x2="428.7" y2="85.9" stroke="#861c40" stroke-width="1.3"/>
<line x1="436.7" y1="84.30000000000001" x2="436.7" y2="87.5" stroke="#861c40" stroke-width="1.0"/>
<line x1="435.8" y1="85.9" x2="437.59999999999997" y2="85.9" stroke="#861c40" stroke-width="1.3"/>
<line x1="449.8" y1="84.30000000000001" x2="449.8" y2="87.5" stroke="#861c40" stroke-width="1.0"/>
<line x1="448.90000000000003" y1="85.9" x2="450.7" y2="85.9" stroke="#861c40" stroke-width="1.3"/>
<line x1="416" y1="53.7" x2="416" y2="81.6" stroke="#000" stroke-width="1.2"/>
<text transform="translate(423.6,74.7) rotate(-90)" x="0" y="0" font-size="5.7" fill="#262626" textLength="16.4" lengthAdjust="spacingAndGlyphs" stroke="#262626" stroke-width="0.15">p=0.36</text>
<line x1="446.1" y1="47.2" x2="446.1" y2="50.7" stroke="#000" stroke-width="1.2"/>
<text transform="translate(454.2,58.4) rotate(-90)" x="0" y="0" font-size="5.7" fill="#262626" textLength="18.4" lengthAdjust="spacingAndGlyphs" stroke="#262626" stroke-width="0.15">p=0.60</text>
<line x1="459.1" y1="47.0" x2="459.1" y2="80.8" stroke="#000" stroke-width="1.2"/>
<text transform="translate(467.0,76.5) rotate(-90)" x="0" y="0" font-size="5.7" fill="#262626" textLength="23.0" lengthAdjust="spacingAndGlyphs" stroke="#262626" stroke-width="0.15">p=0.0083</text>
<text x="309.4" y="189.8" font-size="7.7" text-anchor="end" font-weight="normal" fill="#262626" stroke="#262626" stroke-width="0.14">32</text>
<text x="331.7" y="189.8" font-size="7.7" text-anchor="end" font-weight="normal" fill="#262626" stroke="#262626" stroke-width="0.14">21</text>
<text x="355.2" y="189.8" font-size="7.7" text-anchor="end" font-weight="normal" fill="#262626" stroke="#262626" stroke-width="0.14">11</text>
<text x="377.0" y="189.8" font-size="7.7" text-anchor="end" font-weight="normal" fill="#262626" stroke="#262626" stroke-width="0.14">7</text>
<text x="400.5" y="189.8" font-size="7.7" text-anchor="end" font-weight="normal" fill="#262626" stroke="#262626" stroke-width="0.14">4</text>
<text x="423.8" y="189.8" font-size="7.7" text-anchor="end" font-weight="normal" fill="#262626" stroke="#262626" stroke-width="0.14">1</text>
<text x="447.2" y="189.8" font-size="7.7" text-anchor="end" font-weight="normal" fill="#262626" stroke="#262626" stroke-width="0.14">0</text>
<text x="470.8" y="189.8" font-size="7.7" text-anchor="end" font-weight="normal" fill="#262626" stroke="#262626" stroke-width="0.14">0</text>
<text x="309.4" y="199.6" font-size="7.7" text-anchor="end" font-weight="normal" fill="#262626" stroke="#262626" stroke-width="0.14">7</text>
<text x="331.7" y="199.6" font-size="7.7" text-anchor="end" font-weight="normal" fill="#262626" stroke="#262626" stroke-width="0.14">4</text>
<text x="355.2" y="199.6" font-size="7.7" text-anchor="end" font-weight="normal" fill="#262626" stroke="#262626" stroke-width="0.14">2</text>
<text x="377.0" y="199.6" font-size="7.7" text-anchor="end" font-weight="normal" fill="#262626" stroke="#262626" stroke-width="0.14">2</text>
<text x="400.5" y="199.6" font-size="7.7" text-anchor="end" font-weight="normal" fill="#262626" stroke="#262626" stroke-width="0.14">1</text>
<text x="423.8" y="199.6" font-size="7.7" text-anchor="end" font-weight="normal" fill="#262626" stroke="#262626" stroke-width="0.14">0</text>
<text x="447.2" y="199.6" font-size="7.7" text-anchor="end" font-weight="normal" fill="#262626" stroke="#262626" stroke-width="0.14">0</text>
<text x="470.8" y="199.6" font-size="7.7" text-anchor="end" font-weight="normal" fill="#262626" stroke="#262626" stroke-width="0.14">0</text>
<text x="309.4" y="208.9" font-size="7.7" text-anchor="end" font-weight="normal" fill="#262626" stroke="#262626" stroke-width="0.14">27</text>
<text x="331.7" y="208.9" font-size="7.7" text-anchor="end" font-weight="normal" fill="#262626" stroke="#262626" stroke-width="0.14">11</text>
<text x="355.2" y="208.9" font-size="7.7" text-anchor="end" font-weight="normal" fill="#262626" stroke="#262626" stroke-width="0.14">9</text>
<text x="377.0" y="208.9" font-size="7.7" text-anchor="end" font-weight="normal" fill="#262626" stroke="#262626" stroke-width="0.14">5</text>
<text x="400.5" y="208.9" font-size="7.7" text-anchor="end" font-weight="normal" fill="#262626" stroke="#262626" stroke-width="0.14">4</text>
<text x="423.8" y="208.9" font-size="7.7" text-anchor="end" font-weight="normal" fill="#262626" stroke="#262626" stroke-width="0.14">3</text>
<text x="447.2" y="208.9" font-size="7.7" text-anchor="end" font-weight="normal" fill="#262626" stroke="#262626" stroke-width="0.14">1</text>
<text x="470.8" y="208.9" font-size="7.7" text-anchor="end" font-weight="normal" fill="#262626" stroke="#262626" stroke-width="0.14">0</text>
<text x="481.8" y="178.5" font-size="7.5" text-anchor="start" font-weight="bold" fill="#111" textLength="31.0" lengthAdjust="spacingAndGlyphs">censored</text>
<text x="481.8" y="189.8" font-size="7.6" text-anchor="start" font-weight="bold" fill="#111">29</text>
<text x="481.8" y="199.6" font-size="7.6" text-anchor="start" font-weight="bold" fill="#111">6</text>
<text x="481.8" y="208.9" font-size="7.6" text-anchor="start" font-weight="bold" fill="#111">17</text>
<text x="16.0" y="231.1" font-size="12.2" text-anchor="start" font-weight="bold" fill="#000" stroke="#000" stroke-width="0.35">C</text>
<line x1="47" y1="243.6" x2="47" y2="360.5" stroke="#000" stroke-width="1.5"/>
<line x1="46.25" y1="359.9" x2="225.6" y2="359.9" stroke="#000" stroke-width="1.3"/>
<line x1="43.8" y1="354.2" x2="47" y2="354.2" stroke="#000" stroke-width="1.1"/>
<text x="40.8" y="357.0" font-size="7.7" text-anchor="end" font-weight="normal" fill="#262626" stroke="#262626" stroke-width="0.14">0</text>
<line x1="45.4" y1="343.69" x2="47" y2="343.69" stroke="#000" stroke-width="1.0"/>
<line x1="43.8" y1="333.18" x2="47" y2="333.18" stroke="#000" stroke-width="1.1"/>
<text x="40.8" y="335.98" font-size="7.7" text-anchor="end" font-weight="normal" fill="#262626" stroke="#262626" stroke-width="0.14">20</text>
<line x1="45.4" y1="322.67" x2="47" y2="322.67" stroke="#000" stroke-width="1.0"/>
<line x1="43.8" y1="312.15999999999997" x2="47" y2="312.15999999999997" stroke="#000" stroke-width="1.1"/>
<text x="40.8" y="314.96" font-size="7.7" text-anchor="end" font-weight="normal" fill="#262626" stroke="#262626" stroke-width="0.14">40</text>
<line x1="45.4" y1="301.65" x2="47" y2="301.65" stroke="#000" stroke-width="1.0"/>
<line x1="43.8" y1="291.14" x2="47" y2="291.14" stroke="#000" stroke-width="1.1"/>
<text x="40.8" y="293.94" font-size="7.7" text-anchor="end" font-weight="normal" fill="#262626" stroke="#262626" stroke-width="0.14">60</text>
<line x1="45.4" y1="280.63" x2="47" y2="280.63" stroke="#000" stroke-width="1.0"/>
<line x1="43.8" y1="270.12" x2="47" y2="270.12" stroke="#000" stroke-width="1.1"/>
<text x="40.8" y="272.92" font-size="7.7" text-anchor="end" font-weight="normal" fill="#262626" stroke="#262626" stroke-width="0.14">80</text>
<line x1="45.4" y1="259.61" x2="47" y2="259.61" stroke="#000" stroke-width="1.0"/>
<line x1="43.8" y1="249.1" x2="47" y2="249.1" stroke="#000" stroke-width="1.1"/>
<text x="40.8" y="251.9" font-size="7.7" text-anchor="end" font-weight="normal" fill="#262626" stroke="#262626" stroke-width="0.14">100</text>
<line x1="52.9" y1="359.9" x2="52.9" y2="362.5" stroke="#000" stroke-width="1.1"/>
<line x1="76.28" y1="359.9" x2="76.28" y2="362.5" stroke="#000" stroke-width="1.1"/>
<line x1="99.66" y1="359.9" x2="99.66" y2="362.5" stroke="#000" stroke-width="1.1"/>
<line x1="123.03999999999999" y1="359.9" x2="123.03999999999999" y2="362.5" stroke="#000" stroke-width="1.1"/>
<line x1="146.42" y1="359.9" x2="146.42" y2="362.5" stroke="#000" stroke-width="1.1"/>
<line x1="169.79999999999998" y1="359.9" x2="169.79999999999998" y2="362.5" stroke="#000" stroke-width="1.1"/>
<line x1="193.18" y1="359.9" x2="193.18" y2="362.5" stroke="#000" stroke-width="1.1"/>
<line x1="216.56" y1="359.9" x2="216.56" y2="362.5" stroke="#000" stroke-width="1.1"/>
<line x1="58.745" y1="359.9" x2="58.745" y2="361.5" stroke="#000" stroke-width="0.9"/>
<line x1="64.59" y1="359.9" x2="64.59" y2="361.5" stroke="#000" stroke-width="0.9"/>
<line x1="70.435" y1="359.9" x2="70.435" y2="361.5" stroke="#000" stroke-width="0.9"/>
<line x1="82.125" y1="359.9" x2="82.125" y2="361.5" stroke="#000" stroke-width="0.9"/>
<line x1="87.97" y1="359.9" x2="87.97" y2="361.5" stroke="#000" stroke-width="0.9"/>
<line x1="93.815" y1="359.9" x2="93.815" y2="361.5" stroke="#000" stroke-width="0.9"/>
<line x1="105.505" y1="359.9" x2="105.505" y2="361.5" stroke="#000" stroke-width="0.9"/>
<line x1="111.35" y1="359.9" x2="111.35" y2="361.5" stroke="#000" stroke-width="0.9"/>
<line x1="117.195" y1="359.9" x2="117.195" y2="361.5" stroke="#000" stroke-width="0.9"/>
<line x1="128.885" y1="359.9" x2="128.885" y2="361.5" stroke="#000" stroke-width="0.9"/>
<line x1="134.73" y1="359.9" x2="134.73" y2="361.5" stroke="#000" stroke-width="0.9"/>
<line x1="140.575" y1="359.9" x2="140.575" y2="361.5" stroke="#000" stroke-width="0.9"/>
<line x1="152.265" y1="359.9" x2="152.265" y2="361.5" stroke="#000" stroke-width="0.9"/>
<line x1="158.10999999999999" y1="359.9" x2="158.10999999999999" y2="361.5" stroke="#000" stroke-width="0.9"/>
<line x1="163.95499999999998" y1="359.9" x2="163.95499999999998" y2="361.5" stroke="#000" stroke-width="0.9"/>
<line x1="175.64499999999998" y1="359.9" x2="175.64499999999998" y2="361.5" stroke="#000" stroke-width="0.9"/>
<line x1="181.49" y1="359.9" x2="181.49" y2="361.5" stroke="#000" stroke-width="0.9"/>
<line x1="187.335" y1="359.9" x2="187.335" y2="361.5" stroke="#000" stroke-width="0.9"/>
<line x1="199.025" y1="359.9" x2="199.025" y2="361.5" stroke="#000" stroke-width="0.9"/>
<line x1="204.87" y1="359.9" x2="204.87" y2="361.5" stroke="#000" stroke-width="0.9"/>
<line x1="210.715" y1="359.9" x2="210.715" y2="361.5" stroke="#000" stroke-width="0.9"/>
<line x1="222.405" y1="359.9" x2="222.405" y2="361.5" stroke="#000" stroke-width="0.9"/>
<text x="52.9" y="372.6" font-size="7.7" text-anchor="middle" font-weight="normal" fill="#262626" stroke="#262626" stroke-width="0.14">0</text>
<text x="76.28" y="372.6" font-size="7.7" text-anchor="middle" font-weight="normal" fill="#262626" stroke="#262626" stroke-width="0.14">2</text>
<text x="99.66" y="372.6" font-size="7.7" text-anchor="middle" font-weight="normal" fill="#262626" stroke="#262626" stroke-width="0.14">4</text>
<text x="123.04" y="372.6" font-size="7.7" text-anchor="middle" font-weight="normal" fill="#262626" stroke="#262626" stroke-width="0.14">6</text>
<text x="146.42" y="372.6" font-size="7.7" text-anchor="middle" font-weight="normal" fill="#262626" stroke="#262626" stroke-width="0.14">8</text>
<text x="169.8" y="372.6" font-size="7.7" text-anchor="middle" font-weight="normal" fill="#262626" stroke="#262626" stroke-width="0.14">10</text>
<text x="193.18" y="372.6" font-size="7.7" text-anchor="middle" font-weight="normal" fill="#262626" stroke="#262626" stroke-width="0.14">12</text>
<text x="216.56" y="372.6" font-size="7.7" text-anchor="middle" font-weight="normal" fill="#262626" stroke="#262626" stroke-width="0.14">14</text>
<text x="100.6" y="385.3" font-size="9.6" text-anchor="start" font-weight="normal" fill="#262626" textLength="68.3" lengthAdjust="spacingAndGlyphs" stroke="#262626" stroke-width="0.2">Years after diagnosis</text>
<text transform="translate(22.3,333.2) rotate(-90)" x="0" y="0" font-size="8.8" fill="#262626" textLength="63.3" lengthAdjust="spacingAndGlyphs" stroke="#262626" stroke-width="0.2">Overall survival (%)</text>
<path d="M50.5,249.2 H51.5 V250.5 H52.5 V251.7 H53.5 V253 H55 V254.2 H61.8 V257.2 H74.5 V258.8 H76.5 V260.5 H79 V262.2 H83.3 V265.0 H132.4 V275.9 H192.7" fill="none" stroke="#24366a" stroke-width="1.45" stroke-linejoin="miter" stroke-linecap="butt"/>
<line x1="57.5" y1="252.6" x2="57.5" y2="255.79999999999998" stroke="#24366a" stroke-width="1.0"/>
<line x1="56.6" y1="254.2" x2="58.4" y2="254.2" stroke="#24366a" stroke-width="1.3"/>
<line x1="59.5" y1="252.6" x2="59.5" y2="255.79999999999998" stroke="#24366a" stroke-width="1.0"/>
<line x1="58.6" y1="254.2" x2="60.4" y2="254.2" stroke="#24366a" stroke-width="1.3"/>
<line x1="64.3" y1="255.6" x2="64.3" y2="258.8" stroke="#24366a" stroke-width="1.0"/>
<line x1="63.4" y1="257.2" x2="65.2" y2="257.2" stroke="#24366a" stroke-width="1.3"/>
<line x1="67.1" y1="255.6" x2="67.1" y2="258.8" stroke="#24366a" stroke-width="1.0"/>
<line x1="66.19999999999999" y1="257.2" x2="68.0" y2="257.2" stroke="#24366a" stroke-width="1.3"/>
<line x1="70" y1="255.6" x2="70" y2="258.8" stroke="#24366a" stroke-width="1.0"/>
<line x1="69.1" y1="257.2" x2="70.9" y2="257.2" stroke="#24366a" stroke-width="1.3"/>
<line x1="72.9" y1="255.6" x2="72.9" y2="258.8" stroke="#24366a" stroke-width="1.0"/>
<line x1="72.0" y1="257.2" x2="73.80000000000001" y2="257.2" stroke="#24366a" stroke-width="1.3"/>
<line x1="75.6" y1="257.2" x2="75.6" y2="260.40000000000003" stroke="#24366a" stroke-width="1.0"/>
<line x1="74.69999999999999" y1="258.8" x2="76.5" y2="258.8" stroke="#24366a" stroke-width="1.3"/>
<line x1="77.8" y1="258.9" x2="77.8" y2="262.1" stroke="#24366a" stroke-width="1.0"/>
<line x1="76.89999999999999" y1="260.5" x2="78.7" y2="260.5" stroke="#24366a" stroke-width="1.3"/>
<line x1="81.0" y1="260.59999999999997" x2="81.0" y2="263.8" stroke="#24366a" stroke-width="1.0"/>
<line x1="80.1" y1="262.2" x2="81.9" y2="262.2" stroke="#24366a" stroke-width="1.3"/>
<line x1="86.3" y1="263.4" x2="86.3" y2="266.6" stroke="#24366a" stroke-width="1.0"/>
<line x1="85.39999999999999" y1="265.0" x2="87.2" y2="265.0" stroke="#24366a" stroke-width="1.3"/>
<line x1="89.2" y1="263.4" x2="89.2" y2="266.6" stroke="#24366a" stroke-width="1.0"/>
<line x1="88.3" y1="265.0" x2="90.10000000000001" y2="265.0" stroke="#24366a" stroke-width="1.3"/>
<line x1="92.1" y1="263.4" x2="92.1" y2="266.6" stroke="#24366a" stroke-width="1.0"/>
<line x1="91.19999999999999" y1="265.0" x2="93.0" y2="265.0" stroke="#24366a" stroke-width="1.3"/>
<line x1="95" y1="263.4" x2="95" y2="266.6" stroke="#24366a" stroke-width="1.0"/>
<line x1="94.1" y1="265.0" x2="95.9" y2="265.0" stroke="#24366a" stroke-width="1.3"/>
<line x1="96.9" y1="263.4" x2="96.9" y2="266.6" stroke="#24366a" stroke-width="1.0"/>
<line x1="96.0" y1="265.0" x2="97.80000000000001" y2="265.0" stroke="#24366a" stroke-width="1.3"/>
<line x1="100.8" y1="263.4" x2="100.8" y2="266.6" stroke="#24366a" stroke-width="1.0"/>
<line x1="99.89999999999999" y1="265.0" x2="101.7" y2="265.0" stroke="#24366a" stroke-width="1.3"/>
<line x1="103.7" y1="263.4" x2="103.7" y2="266.6" stroke="#24366a" stroke-width="1.0"/>
<line x1="102.8" y1="265.0" x2="104.60000000000001" y2="265.0" stroke="#24366a" stroke-width="1.3"/>
<line x1="106.5" y1="263.4" x2="106.5" y2="266.6" stroke="#24366a" stroke-width="1.0"/>
<line x1="105.6" y1="265.0" x2="107.4" y2="265.0" stroke="#24366a" stroke-width="1.3"/>
<line x1="109.4" y1="263.4" x2="109.4" y2="266.6" stroke="#24366a" stroke-width="1.0"/>
<line x1="108.5" y1="265.0" x2="110.30000000000001" y2="265.0" stroke="#24366a" stroke-width="1.3"/>
<line x1="111.3" y1="263.4" x2="111.3" y2="266.6" stroke="#24366a" stroke-width="1.0"/>
<line x1="110.39999999999999" y1="265.0" x2="112.2" y2="265.0" stroke="#24366a" stroke-width="1.3"/>
<line x1="118.1" y1="263.4" x2="118.1" y2="266.6" stroke="#24366a" stroke-width="1.0"/>
<line x1="117.19999999999999" y1="265.0" x2="119.0" y2="265.0" stroke="#24366a" stroke-width="1.3"/>
<line x1="125.8" y1="263.4" x2="125.8" y2="266.6" stroke="#24366a" stroke-width="1.0"/>
<line x1="124.89999999999999" y1="265.0" x2="126.7" y2="265.0" stroke="#24366a" stroke-width="1.3"/>
<line x1="143.5" y1="274.29999999999995" x2="143.5" y2="277.5" stroke="#24366a" stroke-width="1.0"/>
<line x1="142.6" y1="275.9" x2="144.4" y2="275.9" stroke="#24366a" stroke-width="1.3"/>
<line x1="156.2" y1="274.29999999999995" x2="156.2" y2="277.5" stroke="#24366a" stroke-width="1.0"/>
<line x1="155.29999999999998" y1="275.9" x2="157.1" y2="275.9" stroke="#24366a" stroke-width="1.3"/>
<line x1="168.9" y1="274.29999999999995" x2="168.9" y2="277.5" stroke="#24366a" stroke-width="1.0"/>
<line x1="168.0" y1="275.9" x2="169.8" y2="275.9" stroke="#24366a" stroke-width="1.3"/>
<line x1="174.7" y1="274.29999999999995" x2="174.7" y2="277.5" stroke="#24366a" stroke-width="1.0"/>
<line x1="173.79999999999998" y1="275.9" x2="175.6" y2="275.9" stroke="#24366a" stroke-width="1.3"/>
<line x1="177" y1="274.29999999999995" x2="177" y2="277.5" stroke="#24366a" stroke-width="1.0"/>
<line x1="176.1" y1="275.9" x2="177.9" y2="275.9" stroke="#24366a" stroke-width="1.3"/>
<line x1="180.4" y1="274.29999999999995" x2="180.4" y2="277.5" stroke="#24366a" stroke-width="1.0"/>
<line x1="179.5" y1="275.9" x2="181.3" y2="275.9" stroke="#24366a" stroke-width="1.3"/>
<line x1="192.7" y1="274.29999999999995" x2="192.7" y2="277.5" stroke="#24366a" stroke-width="1.0"/>
<line x1="191.79999999999998" y1="275.9" x2="193.6" y2="275.9" stroke="#24366a" stroke-width="1.3"/>
<path d="M50.5,249.2 H52.5 V268 H55.5 V275.1 H61.1 V282.2 H66 V288.6 H75.6 V296.5 H178.1" fill="none" stroke="#ae2a70" stroke-width="1.35" stroke-linejoin="miter" stroke-linecap="butt"/>
<line x1="70" y1="287.0" x2="70" y2="290.20000000000005" stroke="#ae2a70" stroke-width="1.0"/>
<line x1="69.1" y1="288.6" x2="70.9" y2="288.6" stroke="#ae2a70" stroke-width="1.3"/>
<line x1="87.6" y1="294.9" x2="87.6" y2="298.1" stroke="#ae2a70" stroke-width="1.0"/>
<line x1="86.69999999999999" y1="296.5" x2="88.5" y2="296.5" stroke="#ae2a70" stroke-width="1.3"/>
<line x1="136.6" y1="294.9" x2="136.6" y2="298.1" stroke="#ae2a70" stroke-width="1.0"/>
<line x1="135.7" y1="296.5" x2="137.5" y2="296.5" stroke="#ae2a70" stroke-width="1.3"/>
<line x1="141.2" y1="294.9" x2="141.2" y2="298.1" stroke="#ae2a70" stroke-width="1.0"/>
<line x1="140.29999999999998" y1="296.5" x2="142.1" y2="296.5" stroke="#ae2a70" stroke-width="1.3"/>
<line x1="178.1" y1="294.9" x2="178.1" y2="298.1" stroke="#ae2a70" stroke-width="1.0"/>
<line x1="177.2" y1="296.5" x2="179.0" y2="296.5" stroke="#ae2a70" stroke-width="1.3"/>
<path d="M50.5,249.2 H51.6 V254 H54 V258 H55 V264.3 H57 V272.5 H58.5 V280 H59.6 V288.6 H61.2 V295 H62.8 V301.4 H65.2 V306.2 H66.8 V312.6 H71.6 V318.5 H78.8 V326.2 H79.5 V333.1 H125 V342.8 H141.2" fill="none" stroke="#861c40" stroke-width="1.35" stroke-linejoin="miter" stroke-linecap="butt"/>
<line x1="66.8" y1="311.0" x2="66.8" y2="314.20000000000005" stroke="#861c40" stroke-width="1.0"/>
<line x1="65.89999999999999" y1="312.6" x2="67.7" y2="312.6" stroke="#861c40" stroke-width="1.3"/>
<line x1="82" y1="331.5" x2="82" y2="334.70000000000005" stroke="#861c40" stroke-width="1.0"/>
<line x1="81.1" y1="333.1" x2="82.9" y2="333.1" stroke="#861c40" stroke-width="1.3"/>
<line x1="141.2" y1="341.2" x2="141.2" y2="344.40000000000003" stroke="#861c40" stroke-width="1.0"/>
<line x1="140.29999999999998" y1="342.8" x2="142.1" y2="342.8" stroke="#861c40" stroke-width="1.3"/>
<line x1="195.5" y1="275.8" x2="195.5" y2="298.1" stroke="#000" stroke-width="1.2"/>
<text transform="translate(203.6,295.2) rotate(-90)" x="0" y="0" font-size="5.7" fill="#262626" textLength="21.4" lengthAdjust="spacingAndGlyphs" stroke="#262626" stroke-width="0.15">p=0.0035</text>
<line x1="188.2" y1="297.1" x2="188.2" y2="347.6" stroke="#000" stroke-width="1.2"/>
<text transform="translate(195.8,333.0) rotate(-90)" x="0" y="0" font-size="5.7" fill="#262626" textLength="25.2" lengthAdjust="spacingAndGlyphs" stroke="#262626" stroke-width="0.15">p=0.0749</text>
<line x1="209.1" y1="276.7" x2="209.1" y2="347.6" stroke="#000" stroke-width="1.2"/>
<text transform="translate(217.7,322.4) rotate(-90)" x="0" y="0" font-size="5.7" fill="#262626" textLength="25.3" lengthAdjust="spacingAndGlyphs" stroke="#262626" stroke-width="0.15">p&lt;0.0001</text>
<text x="38.6" y="391.0" font-size="7" text-anchor="end" font-weight="bold" fill="#111" textLength="28.0" lengthAdjust="spacingAndGlyphs">Number</text>
<text x="38.6" y="400.2" font-size="7" text-anchor="end" font-weight="bold" fill="#111" textLength="21.1" lengthAdjust="spacingAndGlyphs">at risk</text>
<text x="38.9" y="408.2" font-size="7" text-anchor="end" font-weight="normal" fill="#262626" textLength="30.1" lengthAdjust="spacingAndGlyphs" stroke="#262626" stroke-width="0.14">ALL-type</text>
<text x="38.9" y="419.6" font-size="7" text-anchor="end" font-weight="normal" fill="#262626" textLength="32.6" lengthAdjust="spacingAndGlyphs" stroke="#262626" stroke-width="0.14">combined</text>
<text x="38.9" y="429.8" font-size="7" text-anchor="end" font-weight="normal" fill="#262626" textLength="32.4" lengthAdjust="spacingAndGlyphs" stroke="#262626" stroke-width="0.14">AML-type</text>
<text x="57.4" y="408.2" font-size="7.7" text-anchor="end" font-weight="normal" fill="#262626" stroke="#262626" stroke-width="0.14">88</text>
<text x="76.2" y="408.2" font-size="7.7" text-anchor="middle" font-weight="normal" fill="#262626" stroke="#262626" stroke-width="0.14">48</text>
<text x="103.5" y="408.2" font-size="7.7" text-anchor="end" font-weight="normal" fill="#262626" stroke="#262626" stroke-width="0.14">24</text>
<text x="127.2" y="408.2" font-size="7.7" text-anchor="end" font-weight="normal" fill="#262626" stroke="#262626" stroke-width="0.14">10</text>
<text x="148.4" y="408.2" font-size="7.7" text-anchor="end" font-weight="normal" fill="#262626" stroke="#262626" stroke-width="0.14">6</text>
<text x="171.6" y="408.2" font-size="7.7" text-anchor="end" font-weight="normal" fill="#262626" stroke="#262626" stroke-width="0.14">5</text>
<text x="194.8" y="408.2" font-size="7.7" text-anchor="end" font-weight="normal" fill="#262626" stroke="#262626" stroke-width="0.14">1</text>
<text x="57.4" y="420.0" font-size="7.7" text-anchor="end" font-weight="normal" fill="#262626" stroke="#262626" stroke-width="0.14">16</text>
<text x="76.2" y="420.0" font-size="7.7" text-anchor="middle" font-weight="normal" fill="#262626" stroke="#262626" stroke-width="0.14">9</text>
<text x="103.5" y="420.0" font-size="7.7" text-anchor="end" font-weight="normal" fill="#262626" stroke="#262626" stroke-width="0.14">4</text>
<text x="127.2" y="420.0" font-size="7.7" text-anchor="end" font-weight="normal" fill="#262626" stroke="#262626" stroke-width="0.14">3</text>
<text x="148.4" y="420.0" font-size="7.7" text-anchor="end" font-weight="normal" fill="#262626" stroke="#262626" stroke-width="0.14">1</text>
<text x="171.6" y="420.0" font-size="7.7" text-anchor="end" font-weight="normal" fill="#262626" stroke="#262626" stroke-width="0.14">1</text>
<text x="194.8" y="420.0" font-size="7.7" text-anchor="end" font-weight="normal" fill="#262626" stroke="#262626" stroke-width="0.14">0</text>
<text x="57.4" y="430.1" font-size="7.7" text-anchor="end" font-weight="normal" fill="#262626" stroke="#262626" stroke-width="0.14">21</text>
<text x="76.2" y="430.1" font-size="7.7" text-anchor="middle" font-weight="normal" fill="#262626" stroke="#262626" stroke-width="0.14">5</text>
<text x="103.5" y="430.1" font-size="7.7" text-anchor="end" font-weight="normal" fill="#262626" stroke="#262626" stroke-width="0.14">2</text>
<text x="127.2" y="430.1" font-size="7.7" text-anchor="end" font-weight="normal" fill="#262626" stroke="#262626" stroke-width="0.14">2</text>
<text x="148.4" y="430.1" font-size="7.7" text-anchor="end" font-weight="normal" fill="#262626" stroke="#262626" stroke-width="0.14">0</text>
<text x="171.6" y="430.1" font-size="7.7" text-anchor="end" font-weight="normal" fill="#262626" stroke="#262626" stroke-width="0.14">0</text>
<text x="194.8" y="430.1" font-size="7.7" text-anchor="end" font-weight="normal" fill="#262626" stroke="#262626" stroke-width="0.14">0</text>
<text x="218.5" y="408.2" font-size="7.7" text-anchor="end" font-weight="normal" fill="#262626" stroke="#262626" stroke-width="0.14">0</text>
<text x="218.5" y="420.0" font-size="7.7" text-anchor="end" font-weight="normal" fill="#262626" stroke="#262626" stroke-width="0.14">0</text>
<text x="218.5" y="430.1" font-size="7.7" text-anchor="end" font-weight="normal" fill="#262626" stroke="#262626" stroke-width="0.14">0</text>
<text x="228.5" y="397.7" font-size="7.5" text-anchor="start" font-weight="bold" fill="#111" textLength="31.1" lengthAdjust="spacingAndGlyphs">censored</text>
<text x="228.5" y="408.2" font-size="7.6" text-anchor="start" font-weight="bold" fill="#111">78</text>
<text x="228.5" y="420.0" font-size="7.6" text-anchor="start" font-weight="bold" fill="#111">9</text>
<text x="228.5" y="430.1" font-size="7.6" text-anchor="start" font-weight="bold" fill="#111">6</text>
<text x="267.7" y="231.1" font-size="12.2" text-anchor="start" font-weight="bold" fill="#000" stroke="#000" stroke-width="0.35">D</text>
<line x1="299" y1="243.1" x2="299" y2="360.40000000000003" stroke="#000" stroke-width="1.5"/>
<line x1="298.25" y1="359.8" x2="476.9" y2="359.8" stroke="#000" stroke-width="1.3"/>
<line x1="295.8" y1="353.9" x2="299" y2="353.9" stroke="#000" stroke-width="1.1"/>
<text x="292.9" y="356.7" font-size="7.7" text-anchor="end" font-weight="normal" fill="#262626" stroke="#262626" stroke-width="0.14">0</text>
<line x1="297.4" y1="343.42999999999995" x2="299" y2="343.42999999999995" stroke="#000" stroke-width="1.0"/>
<line x1="295.8" y1="332.96" x2="299" y2="332.96" stroke="#000" stroke-width="1.1"/>
<text x="292.9" y="335.76" font-size="7.7" text-anchor="end" font-weight="normal" fill="#262626" stroke="#262626" stroke-width="0.14">20</text>
<line x1="297.4" y1="322.49" x2="299" y2="322.49" stroke="#000" stroke-width="1.0"/>
<line x1="295.8" y1="312.02" x2="299" y2="312.02" stroke="#000" stroke-width="1.1"/>
<text x="292.9" y="314.82" font-size="7.7" text-anchor="end" font-weight="normal" fill="#262626" stroke="#262626" stroke-width="0.14">40</text>
<line x1="297.4" y1="301.54999999999995" x2="299" y2="301.54999999999995" stroke="#000" stroke-width="1.0"/>
<line x1="295.8" y1="291.08" x2="299" y2="291.08" stroke="#000" stroke-width="1.1"/>
<text x="292.9" y="293.88" font-size="7.7" text-anchor="end" font-weight="normal" fill="#262626" stroke="#262626" stroke-width="0.14">60</text>
<line x1="297.4" y1="280.61" x2="299" y2="280.61" stroke="#000" stroke-width="1.0"/>
<line x1="295.8" y1="270.14" x2="299" y2="270.14" stroke="#000" stroke-width="1.1"/>
<text x="292.9" y="272.94" font-size="7.7" text-anchor="end" font-weight="normal" fill="#262626" stroke="#262626" stroke-width="0.14">80</text>
<line x1="297.4" y1="259.66999999999996" x2="299" y2="259.66999999999996" stroke="#000" stroke-width="1.0"/>
<line x1="295.8" y1="249.2" x2="299" y2="249.2" stroke="#000" stroke-width="1.1"/>
<text x="292.9" y="252.0" font-size="7.7" text-anchor="end" font-weight="normal" fill="#262626" stroke="#262626" stroke-width="0.14">100</text>
<line x1="305.0" y1="359.8" x2="305.0" y2="362.40000000000003" stroke="#000" stroke-width="1.1"/>
<line x1="327.9" y1="359.8" x2="327.9" y2="362.40000000000003" stroke="#000" stroke-width="1.1"/>
<line x1="351.7" y1="359.8" x2="351.7" y2="362.40000000000003" stroke="#000" stroke-width="1.1"/>
<line x1="374.5" y1="359.8" x2="374.5" y2="362.40000000000003" stroke="#000" stroke-width="1.1"/>
<line x1="398.1" y1="359.8" x2="398.1" y2="362.40000000000003" stroke="#000" stroke-width="1.1"/>
<line x1="421.5" y1="359.8" x2="421.5" y2="362.40000000000003" stroke="#000" stroke-width="1.1"/>
<line x1="445.0" y1="359.8" x2="445.0" y2="362.40000000000003" stroke="#000" stroke-width="1.1"/>
<line x1="468.1" y1="359.8" x2="468.1" y2="362.40000000000003" stroke="#000" stroke-width="1.1"/>
<line x1="310.725" y1="359.8" x2="310.725" y2="361.40000000000003" stroke="#000" stroke-width="0.9"/>
<line x1="316.45" y1="359.8" x2="316.45" y2="361.40000000000003" stroke="#000" stroke-width="0.9"/>
<line x1="322.17499999999995" y1="359.8" x2="322.17499999999995" y2="361.40000000000003" stroke="#000" stroke-width="0.9"/>
<line x1="333.84999999999997" y1="359.8" x2="333.84999999999997" y2="361.40000000000003" stroke="#000" stroke-width="0.9"/>
<line x1="339.79999999999995" y1="359.8" x2="339.79999999999995" y2="361.40000000000003" stroke="#000" stroke-width="0.9"/>
<line x1="345.75" y1="359.8" x2="345.75" y2="361.40000000000003" stroke="#000" stroke-width="0.9"/>
<line x1="357.4" y1="359.8" x2="357.4" y2="361.40000000000003" stroke="#000" stroke-width="0.9"/>
<line x1="363.1" y1="359.8" x2="363.1" y2="361.40000000000003" stroke="#000" stroke-width="0.9"/>
<line x1="368.8" y1="359.8" x2="368.8" y2="361.40000000000003" stroke="#000" stroke-width="0.9"/>
<line x1="380.4" y1="359.8" x2="380.4" y2="361.40000000000003" stroke="#000" stroke-width="0.9"/>
<line x1="386.3" y1="359.8" x2="386.3" y2="361.40000000000003" stroke="#000" stroke-width="0.9"/>
<line x1="392.20000000000005" y1="359.8" x2="392.20000000000005" y2="361.40000000000003" stroke="#000" stroke-width="0.9"/>
<line x1="403.95000000000005" y1="359.8" x2="403.95000000000005" y2="361.40000000000003" stroke="#000" stroke-width="0.9"/>
<line x1="409.8" y1="359.8" x2="409.8" y2="361.40000000000003" stroke="#000" stroke-width="0.9"/>
<line x1="415.65" y1="359.8" x2="415.65" y2="361.40000000000003" stroke="#000" stroke-width="0.9"/>
<line x1="427.375" y1="359.8" x2="427.375" y2="361.40000000000003" stroke="#000" stroke-width="0.9"/>
<line x1="433.25" y1="359.8" x2="433.25" y2="361.40000000000003" stroke="#000" stroke-width="0.9"/>
<line x1="439.125" y1="359.8" x2="439.125" y2="361.40000000000003" stroke="#000" stroke-width="0.9"/>
<line x1="450.775" y1="359.8" x2="450.775" y2="361.40000000000003" stroke="#000" stroke-width="0.9"/>
<line x1="456.55" y1="359.8" x2="456.55" y2="361.40000000000003" stroke="#000" stroke-width="0.9"/>
<line x1="462.32500000000005" y1="359.8" x2="462.32500000000005" y2="361.40000000000003" stroke="#000" stroke-width="0.9"/>
<line x1="473.875" y1="359.8" x2="473.875" y2="361.40000000000003" stroke="#000" stroke-width="0.9"/>
<text x="305.1" y="372.3" font-size="7.7" text-anchor="middle" font-weight="normal" fill="#262626" stroke="#262626" stroke-width="0.14">0</text>
<text x="327.9" y="372.3" font-size="7.7" text-anchor="middle" font-weight="normal" fill="#262626" stroke="#262626" stroke-width="0.14">2</text>
<text x="347.1" y="372.3" font-size="7.7" text-anchor="middle" font-weight="normal" fill="#262626" stroke="#262626" stroke-width="0.14">4</text>
<text x="374.5" y="372.3" font-size="7.7" text-anchor="middle" font-weight="normal" fill="#262626" stroke="#262626" stroke-width="0.14">6</text>
<text x="398.1" y="372.3" font-size="7.7" text-anchor="middle" font-weight="normal" fill="#262626" stroke="#262626" stroke-width="0.14">8</text>
<text x="421.5" y="372.3" font-size="7.7" text-anchor="middle" font-weight="normal" fill="#262626" stroke="#262626" stroke-width="0.14">10</text>
<text x="445.0" y="372.3" font-size="7.7" text-anchor="middle" font-weight="normal" fill="#262626" stroke="#262626" stroke-width="0.14">12</text>
<text x="468.1" y="372.3" font-size="7.7" text-anchor="middle" font-weight="normal" fill="#262626" stroke="#262626" stroke-width="0.14">14</text>
<text x="352.6" y="385.1" font-size="9.6" text-anchor="start" font-weight="normal" fill="#262626" textLength="68.0" lengthAdjust="spacingAndGlyphs" stroke="#262626" stroke-width="0.2">Years after diagnosis</text>
<text transform="translate(274.3,332.9) rotate(-90)" x="0" y="0" font-size="8.8" fill="#262626" textLength="63.4" lengthAdjust="spacingAndGlyphs" stroke="#262626" stroke-width="0.2">Overall survival (%)</text>
<path d="M303.4,249.4 H304.9 V252.9 H315.7 V256.6 H320.3 V260.1 H443.5" fill="none" stroke="#2e3858" stroke-width="1.25" stroke-linejoin="miter" stroke-linecap="butt"/>
<line x1="311.8" y1="251.3" x2="311.8" y2="254.5" stroke="#24366a" stroke-width="1.0"/>
<line x1="310.90000000000003" y1="252.9" x2="312.7" y2="252.9" stroke="#24366a" stroke-width="1.3"/>
<line x1="322.6" y1="258.5" x2="322.6" y2="261.70000000000005" stroke="#24366a" stroke-width="1.0"/>
<line x1="321.70000000000005" y1="260.1" x2="323.5" y2="260.1" stroke="#24366a" stroke-width="1.3"/>
<line x1="324.9" y1="258.5" x2="324.9" y2="261.70000000000005" stroke="#24366a" stroke-width="1.0"/>
<line x1="324.0" y1="260.1" x2="325.79999999999995" y2="260.1" stroke="#24366a" stroke-width="1.3"/>
<line x1="329.5" y1="258.5" x2="329.5" y2="261.70000000000005" stroke="#24366a" stroke-width="1.0"/>
<line x1="328.6" y1="260.1" x2="330.4" y2="260.1" stroke="#24366a" stroke-width="1.3"/>
<line x1="331.1" y1="258.5" x2="331.1" y2="261.70000000000005" stroke="#24366a" stroke-width="1.0"/>
<line x1="330.20000000000005" y1="260.1" x2="332.0" y2="260.1" stroke="#24366a" stroke-width="1.3"/>
<line x1="333.4" y1="258.5" x2="333.4" y2="261.70000000000005" stroke="#24366a" stroke-width="1.0"/>
<line x1="332.5" y1="260.1" x2="334.29999999999995" y2="260.1" stroke="#24366a" stroke-width="1.3"/>
<line x1="335.7" y1="258.5" x2="335.7" y2="261.70000000000005" stroke="#24366a" stroke-width="1.0"/>
<line x1="334.8" y1="260.1" x2="336.59999999999997" y2="260.1" stroke="#24366a" stroke-width="1.3"/>
<line x1="338.8" y1="258.5" x2="338.8" y2="261.70000000000005" stroke="#24366a" stroke-width="1.0"/>
<line x1="337.90000000000003" y1="260.1" x2="339.7" y2="260.1" stroke="#24366a" stroke-width="1.3"/>
<line x1="343.4" y1="258.5" x2="343.4" y2="261.70000000000005" stroke="#24366a" stroke-width="1.0"/>
<line x1="342.5" y1="260.1" x2="344.29999999999995" y2="260.1" stroke="#24366a" stroke-width="1.3"/>
<line x1="355.7" y1="258.5" x2="355.7" y2="261.70000000000005" stroke="#24366a" stroke-width="1.0"/>
<line x1="354.8" y1="260.1" x2="356.59999999999997" y2="260.1" stroke="#24366a" stroke-width="1.3"/>
<line x1="359.5" y1="258.5" x2="359.5" y2="261.70000000000005" stroke="#24366a" stroke-width="1.0"/>
<line x1="358.6" y1="260.1" x2="360.4" y2="260.1" stroke="#24366a" stroke-width="1.3"/>
<line x1="367.2" y1="258.5" x2="367.2" y2="261.70000000000005" stroke="#24366a" stroke-width="1.0"/>
<line x1="366.3" y1="260.1" x2="368.09999999999997" y2="260.1" stroke="#24366a" stroke-width="1.3"/>
<line x1="386.9" y1="258.5" x2="386.9" y2="261.70000000000005" stroke="#24366a" stroke-width="1.0"/>
<line x1="386.0" y1="260.1" x2="387.79999999999995" y2="260.1" stroke="#24366a" stroke-width="1.3"/>
<line x1="397.5" y1="258.5" x2="397.5" y2="261.70000000000005" stroke="#24366a" stroke-width="1.0"/>
<line x1="396.6" y1="260.1" x2="398.4" y2="260.1" stroke="#24366a" stroke-width="1.3"/>
<line x1="413.3" y1="258.5" x2="413.3" y2="261.70000000000005" stroke="#24366a" stroke-width="1.0"/>
<line x1="412.40000000000003" y1="260.1" x2="414.2" y2="260.1" stroke="#24366a" stroke-width="1.3"/>
<line x1="443.5" y1="258.5" x2="443.5" y2="261.70000000000005" stroke="#24366a" stroke-width="1.0"/>
<line x1="442.6" y1="260.1" x2="444.4" y2="260.1" stroke="#24366a" stroke-width="1.3"/>
<path d="M303.4,249.4 H304.5 V266.9 H412.8" fill="none" stroke="#ae2a70" stroke-width="1.35" stroke-linejoin="miter" stroke-linecap="butt"/>
<line x1="333.4" y1="265.29999999999995" x2="333.4" y2="268.5" stroke="#ae2a70" stroke-width="1.0"/>
<line x1="332.5" y1="266.9" x2="334.29999999999995" y2="266.9" stroke="#ae2a70" stroke-width="1.3"/>
<line x1="344.9" y1="265.29999999999995" x2="344.9" y2="268.5" stroke="#ae2a70" stroke-width="1.0"/>
<line x1="344.0" y1="266.9" x2="345.79999999999995" y2="266.9" stroke="#ae2a70" stroke-width="1.3"/>
<line x1="392.2" y1="265.29999999999995" x2="392.2" y2="268.5" stroke="#ae2a70" stroke-width="1.0"/>
<line x1="391.3" y1="266.9" x2="393.09999999999997" y2="266.9" stroke="#ae2a70" stroke-width="1.3"/>
<line x1="412.8" y1="265.29999999999995" x2="412.8" y2="268.5" stroke="#ae2a70" stroke-width="1.0"/>
<line x1="411.90000000000003" y1="266.9" x2="413.7" y2="266.9" stroke="#ae2a70" stroke-width="1.3"/>
<path d="M303.4,249.4 H306.0 V263.2 H309.5 V267.1 H318 V272.2 H326.5 V277.5 H354.6 V285.7 H449.8" fill="none" stroke="#861c40" stroke-width="1.35" stroke-linejoin="miter" stroke-linecap="butt"/>
<line x1="321.8" y1="270.59999999999997" x2="321.8" y2="273.8" stroke="#861c40" stroke-width="1.0"/>
<line x1="320.90000000000003" y1="272.2" x2="322.7" y2="272.2" stroke="#861c40" stroke-width="1.3"/>
<line x1="334.9" y1="275.9" x2="334.9" y2="279.1" stroke="#861c40" stroke-width="1.0"/>
<line x1="334.0" y1="277.5" x2="335.79999999999995" y2="277.5" stroke="#861c40" stroke-width="1.3"/>
<line x1="338.8" y1="275.9" x2="338.8" y2="279.1" stroke="#861c40" stroke-width="1.0"/>
<line x1="337.90000000000003" y1="277.5" x2="339.7" y2="277.5" stroke="#861c40" stroke-width="1.3"/>
<line x1="341.1" y1="275.9" x2="341.1" y2="279.1" stroke="#861c40" stroke-width="1.0"/>
<line x1="340.20000000000005" y1="277.5" x2="342.0" y2="277.5" stroke="#861c40" stroke-width="1.3"/>
<line x1="343.4" y1="275.9" x2="343.4" y2="279.1" stroke="#861c40" stroke-width="1.0"/>
<line x1="342.5" y1="277.5" x2="344.29999999999995" y2="277.5" stroke="#861c40" stroke-width="1.3"/>
<line x1="344.9" y1="275.9" x2="344.9" y2="279.1" stroke="#861c40" stroke-width="1.0"/>
<line x1="344.0" y1="277.5" x2="345.79999999999995" y2="277.5" stroke="#861c40" stroke-width="1.3"/>
<line x1="362.6" y1="284.09999999999997" x2="362.6" y2="287.3" stroke="#861c40" stroke-width="1.0"/>
<line x1="361.70000000000005" y1="285.7" x2="363.5" y2="285.7" stroke="#861c40" stroke-width="1.3"/>
<line x1="364.9" y1="284.09999999999997" x2="364.9" y2="287.3" stroke="#861c40" stroke-width="1.0"/>
<line x1="364.0" y1="285.7" x2="365.79999999999995" y2="285.7" stroke="#861c40" stroke-width="1.3"/>
<line x1="366.5" y1="284.09999999999997" x2="366.5" y2="287.3" stroke="#861c40" stroke-width="1.0"/>
<line x1="365.6" y1="285.7" x2="367.4" y2="285.7" stroke="#861c40" stroke-width="1.3"/>
<line x1="371.8" y1="284.09999999999997" x2="371.8" y2="287.3" stroke="#861c40" stroke-width="1.0"/>
<line x1="370.90000000000003" y1="285.7" x2="372.7" y2="285.7" stroke="#861c40" stroke-width="1.3"/>
<line x1="382.7" y1="284.09999999999997" x2="382.7" y2="287.3" stroke="#861c40" stroke-width="1.0"/>
<line x1="381.8" y1="285.7" x2="383.59999999999997" y2="285.7" stroke="#861c40" stroke-width="1.3"/>
<line x1="403.8" y1="284.09999999999997" x2="403.8" y2="287.3" stroke="#861c40" stroke-width="1.0"/>
<line x1="402.90000000000003" y1="285.7" x2="404.7" y2="285.7" stroke="#861c40" stroke-width="1.3"/>
<line x1="427.3" y1="284.09999999999997" x2="427.3" y2="287.3" stroke="#861c40" stroke-width="1.0"/>
<line x1="426.40000000000003" y1="285.7" x2="428.2" y2="285.7" stroke="#861c40" stroke-width="1.3"/>
<line x1="436.5" y1="284.09999999999997" x2="436.5" y2="287.3" stroke="#861c40" stroke-width="1.0"/>
<line x1="435.6" y1="285.7" x2="437.4" y2="285.7" stroke="#861c40" stroke-width="1.3"/>
<line x1="449.8" y1="284.09999999999997" x2="449.8" y2="287.3" stroke="#861c40" stroke-width="1.0"/>
<line x1="448.90000000000003" y1="285.7" x2="450.7" y2="285.7" stroke="#861c40" stroke-width="1.3"/>
<line x1="419.8" y1="265.8" x2="419.8" y2="283.6" stroke="#000" stroke-width="1.2"/>
<text transform="translate(427.0,283.1) rotate(-90)" x="0" y="0" font-size="5.7" fill="#262626" textLength="21.4" lengthAdjust="spacingAndGlyphs" stroke="#262626" stroke-width="0.15">p=0.4497</text>
<line x1="444.6" y1="261.2" x2="444.6" y2="267.5" stroke="#000" stroke-width="1.2"/>
<text transform="translate(451.8,274.4) rotate(-90)" x="0" y="0" font-size="5.7" fill="#262626" textLength="21.9" lengthAdjust="spacingAndGlyphs" stroke="#262626" stroke-width="0.15">p=0.6015</text>
<line x1="457.9" y1="258.8" x2="457.9" y2="287.1" stroke="#000" stroke-width="1.2"/>
<text transform="translate(466.0,280.2) rotate(-90)" x="0" y="0" font-size="5.7" fill="#262626" textLength="22.5" lengthAdjust="spacingAndGlyphs" stroke="#262626" stroke-width="0.15">p=0.0863</text>
<text x="309.2" y="408.1" font-size="7.7" text-anchor="end" font-weight="normal" fill="#262626" stroke="#262626" stroke-width="0.14">32</text>
<text x="331.9" y="408.1" font-size="7.7" text-anchor="end" font-weight="normal" fill="#262626" stroke="#262626" stroke-width="0.14">21</text>
<text x="351.0" y="408.1" font-size="7.7" text-anchor="end" font-weight="normal" fill="#262626" stroke="#262626" stroke-width="0.14">11</text>
<text x="376.9" y="408.1" font-size="7.7" text-anchor="end" font-weight="normal" fill="#262626" stroke="#262626" stroke-width="0.14">7</text>
<text x="400.5" y="408.1" font-size="7.7" text-anchor="end" font-weight="normal" fill="#262626" stroke="#262626" stroke-width="0.14">4</text>
<text x="423.1" y="408.1" font-size="7.7" text-anchor="end" font-weight="normal" fill="#262626" stroke="#262626" stroke-width="0.14">1</text>
<text x="447.4" y="408.1" font-size="7.7" text-anchor="end" font-weight="normal" fill="#262626" stroke="#262626" stroke-width="0.14">0</text>
<text x="470.0" y="408.1" font-size="7.7" text-anchor="end" font-weight="normal" fill="#262626" stroke="#262626" stroke-width="0.14">0</text>
<text x="309.2" y="419.9" font-size="7.7" text-anchor="end" font-weight="normal" fill="#262626" stroke="#262626" stroke-width="0.14">7</text>
<text x="331.9" y="419.9" font-size="7.7" text-anchor="end" font-weight="normal" fill="#262626" stroke="#262626" stroke-width="0.14">4</text>
<text x="351.0" y="419.9" font-size="7.7" text-anchor="end" font-weight="normal" fill="#262626" stroke="#262626" stroke-width="0.14">2</text>
<text x="376.9" y="419.9" font-size="7.7" text-anchor="end" font-weight="normal" fill="#262626" stroke="#262626" stroke-width="0.14">2</text>
<text x="400.5" y="419.9" font-size="7.7" text-anchor="end" font-weight="normal" fill="#262626" stroke="#262626" stroke-width="0.14">1</text>
<text x="423.1" y="419.9" font-size="7.7" text-anchor="end" font-weight="normal" fill="#262626" stroke="#262626" stroke-width="0.14">0</text>
<text x="447.4" y="419.9" font-size="7.7" text-anchor="end" font-weight="normal" fill="#262626" stroke="#262626" stroke-width="0.14">0</text>
<text x="470.0" y="419.9" font-size="7.7" text-anchor="end" font-weight="normal" fill="#262626" stroke="#262626" stroke-width="0.14">0</text>
<text x="309.2" y="430.1" font-size="7.7" text-anchor="end" font-weight="normal" fill="#262626" stroke="#262626" stroke-width="0.14">27</text>
<text x="331.9" y="430.1" font-size="7.7" text-anchor="end" font-weight="normal" fill="#262626" stroke="#262626" stroke-width="0.14">14</text>
<text x="351.0" y="430.1" font-size="7.7" text-anchor="end" font-weight="normal" fill="#262626" stroke="#262626" stroke-width="0.14">10</text>
<text x="376.9" y="430.1" font-size="7.7" text-anchor="end" font-weight="normal" fill="#262626" stroke="#262626" stroke-width="0.14">5</text>
<text x="400.5" y="430.1" font-size="7.7" text-anchor="end" font-weight="normal" fill="#262626" stroke="#262626" stroke-width="0.14">4</text>
<text x="423.1" y="430.1" font-size="7.7" text-anchor="end" font-weight="normal" fill="#262626" stroke="#262626" stroke-width="0.14">3</text>
<text x="447.4" y="430.1" font-size="7.7" text-anchor="end" font-weight="normal" fill="#262626" stroke="#262626" stroke-width="0.14">1</text>
<text x="470.0" y="430.1" font-size="7.7" text-anchor="end" font-weight="normal" fill="#262626" stroke="#262626" stroke-width="0.14">0</text>
<text x="481.6" y="397.9" font-size="7.5" text-anchor="start" font-weight="bold" fill="#111" textLength="31.8" lengthAdjust="spacingAndGlyphs">censored</text>
<text x="481.6" y="408.1" font-size="7.6" text-anchor="start" font-weight="bold" fill="#111">29</text>
<text x="481.6" y="419.9" font-size="7.6" text-anchor="start" font-weight="bold" fill="#111">6</text>
<text x="481.6" y="430.1" font-size="7.6" text-anchor="start" font-weight="bold" fill="#111">20</text>
<circle cx="51.6" cy="34.6" r="1.3" fill="#3a1a2a"/>
<circle cx="303.9" cy="34.6" r="1.3" fill="#3a1a2a"/>
<circle cx="50.8" cy="249.4" r="1.3" fill="#3a1a2a"/>
<circle cx="303.6" cy="249.6" r="1.3" fill="#3a1a2a"/>
<rect x="0" y="0" width="1.3" height="438" fill="#000"/>
<rect x="0" y="0" width="520" height="1.2" fill="#000"/>
<rect x="0" y="436.6" width="520" height="1.4" fill="#000"/>
<rect x="518.6" y="0" width="1.4" height="438" fill="#000"/>
</g>
</svg>
</body></html>
